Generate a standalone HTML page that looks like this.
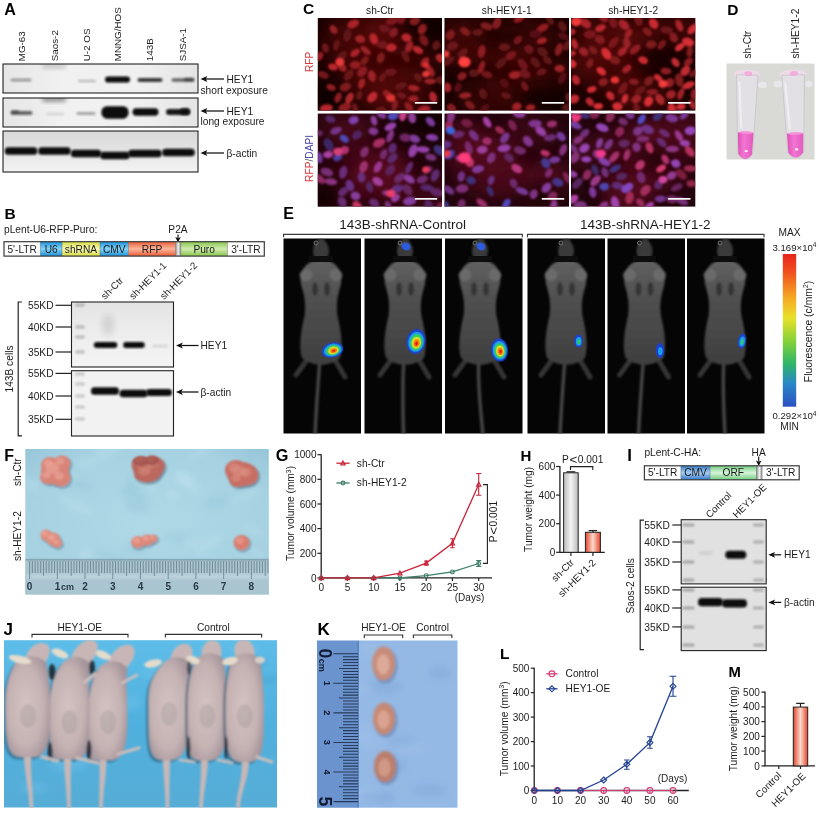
<!DOCTYPE html>
<html><head><meta charset="utf-8"><title>Figure</title>
<style>html,body{margin:0;padding:0;background:#fff}svg{display:block}text{font-family:"Liberation Sans", sans-serif}</style>
</head><body>
<svg width="820" height="814" viewBox="0 0 820 814">
<defs>
<filter id="b05" x="-20%" y="-50%" width="140%" height="200%"><feGaussianBlur stdDeviation="0.5"/></filter>
<filter id="b1" x="-20%" y="-50%" width="140%" height="200%"><feGaussianBlur stdDeviation="1"/></filter>
<filter id="b15" x="-30%" y="-60%" width="160%" height="220%"><feGaussianBlur stdDeviation="1.5"/></filter>
<filter id="b2" x="-30%" y="-60%" width="160%" height="220%"><feGaussianBlur stdDeviation="2"/></filter>
<filter id="b3" x="-40%" y="-60%" width="180%" height="220%"><feGaussianBlur stdDeviation="3"/></filter>
<filter id="b5" x="-50%" y="-50%" width="200%" height="200%"><feGaussianBlur stdDeviation="5"/></filter>
<filter id="b8" x="-50%" y="-50%" width="200%" height="200%"><feGaussianBlur stdDeviation="8"/></filter>
<linearGradient id="gA1" x1="0" y1="0" x2="1" y2="0"><stop offset="0" stop-color="#e6e6e6"/><stop offset="0.3" stop-color="#f1f1f1"/><stop offset="0.7" stop-color="#f0f0f0"/><stop offset="1" stop-color="#e4e4e4"/></linearGradient>
<linearGradient id="gA3" x1="0" y1="0" x2="0" y2="1"><stop offset="0" stop-color="#d8d8d8"/><stop offset="0.55" stop-color="#e6e6e6"/><stop offset="1" stop-color="#f4f4f4"/></linearGradient>
<linearGradient id="gBlue" x1="0" y1="0" x2="0" y2="1"><stop offset="0" stop-color="#1b90d8"/><stop offset="0.5" stop-color="#84d2f7"/><stop offset="1" stop-color="#1b90d8"/></linearGradient>
<linearGradient id="gYel" x1="0" y1="0" x2="0" y2="1"><stop offset="0" stop-color="#d6da44"/><stop offset="0.5" stop-color="#f7f7b4"/><stop offset="1" stop-color="#d6da44"/></linearGradient>
<linearGradient id="gRed" x1="0" y1="0" x2="0" y2="1"><stop offset="0" stop-color="#ea5c38"/><stop offset="0.5" stop-color="#fbb69a"/><stop offset="1" stop-color="#ea5c38"/></linearGradient>
<linearGradient id="gGrn" x1="0" y1="0" x2="0" y2="1"><stop offset="0" stop-color="#88c54c"/><stop offset="0.5" stop-color="#d0ebae"/><stop offset="1" stop-color="#88c54c"/></linearGradient>
<linearGradient id="gGrn2" x1="0" y1="0" x2="0" y2="1"><stop offset="0" stop-color="#72cc80"/><stop offset="0.5" stop-color="#d6f4da"/><stop offset="1" stop-color="#72cc80"/></linearGradient>
<linearGradient id="gBlue2" x1="0" y1="0" x2="0" y2="1"><stop offset="0" stop-color="#357ac8"/><stop offset="0.5" stop-color="#a4cdf2"/><stop offset="1" stop-color="#357ac8"/></linearGradient>
<linearGradient id="gGray2" x1="0" y1="0" x2="1" y2="0"><stop offset="0" stop-color="#8a8a8a"/><stop offset="0.5" stop-color="#f2f2f2"/><stop offset="1" stop-color="#8a8a8a"/></linearGradient>
<linearGradient id="gGray" x1="0" y1="0" x2="1" y2="0"><stop offset="0" stop-color="#9a9a9a"/><stop offset="0.5" stop-color="#d8d8d8"/><stop offset="1" stop-color="#9a9a9a"/></linearGradient>
<linearGradient id="gB1" x1="0" y1="0" x2="0" y2="1"><stop offset="0" stop-color="#e4e4e4"/><stop offset="0.6" stop-color="#efefef"/><stop offset="1" stop-color="#f4f4f4"/></linearGradient>
<filter id="bc" x="-30%" y="-30%" width="160%" height="160%"><feGaussianBlur stdDeviation="1.05"/></filter>
<linearGradient id="gTube" x1="0" y1="0" x2="1" y2="0"><stop offset="0" stop-color="#cfc6d2"/><stop offset="0.25" stop-color="#e9e4ea"/><stop offset="0.75" stop-color="#e4dfe6"/><stop offset="1" stop-color="#cdc4d0"/></linearGradient>
<linearGradient id="gPink" x1="0" y1="0" x2="1" y2="0"><stop offset="0" stop-color="#dc52b6"/><stop offset="0.4" stop-color="#f274d2"/><stop offset="1" stop-color="#e25abc"/></linearGradient>
<clipPath id="c1"><rect x="317.8" y="18" width="124.2" height="92.6"/></clipPath>
<clipPath id="c2"><rect x="444.5" y="18" width="124.5" height="92.6"/></clipPath>
<clipPath id="c3"><rect x="571" y="18" width="124.3" height="92.6"/></clipPath>
<clipPath id="c4"><rect x="317.8" y="113.6" width="124.2" height="93"/></clipPath>
<clipPath id="c5"><rect x="444.5" y="113.6" width="124.5" height="93"/></clipPath>
<clipPath id="c6"><rect x="571" y="113.6" width="124.3" height="93"/></clipPath>
<clipPath id="c7"><rect x="726.5" y="63.5" width="88" height="96"/></clipPath>
<radialGradient id="gBody" cx="0.5" cy="0.45" r="0.6"><stop offset="0" stop-color="#575757"/><stop offset="0.7" stop-color="#444"/><stop offset="1" stop-color="#2a2a2a"/></radialGradient>
<linearGradient id="gCbar" x1="0" y1="0" x2="0" y2="1"><stop offset="0" stop-color="#e8241c"/><stop offset="0.12" stop-color="#f0501e"/><stop offset="0.28" stop-color="#f5a623"/><stop offset="0.42" stop-color="#e8e12a"/><stop offset="0.58" stop-color="#7fd03a"/><stop offset="0.72" stop-color="#2fb56a"/><stop offset="0.85" stop-color="#2a86c8"/><stop offset="1" stop-color="#2a50c0"/></linearGradient>
<linearGradient id="gBodyV" x1="0" y1="0" x2="0" y2="1"><stop offset="0" stop-color="#606060"/><stop offset="0.35" stop-color="#505050"/><stop offset="1" stop-color="#3f3f3f"/></linearGradient>
<clipPath id="c8"><rect x="283.5" y="238.5" width="77.5" height="195"/></clipPath>
<clipPath id="c9"><rect x="364.5" y="238.5" width="77.5" height="195"/></clipPath>
<clipPath id="c10"><rect x="445" y="238.5" width="77.5" height="195"/></clipPath>
<clipPath id="c11"><rect x="527.5" y="238.5" width="77.5" height="195"/></clipPath>
<clipPath id="c12"><rect x="607.5" y="238.5" width="77.5" height="195"/></clipPath>
<clipPath id="c13"><rect x="687" y="238.5" width="77.5" height="195"/></clipPath>
<radialGradient id="gFbg" cx="0.5" cy="0.5" r="0.75"><stop offset="0" stop-color="#b0d9e7"/><stop offset="0.7" stop-color="#a5d1e1"/><stop offset="1" stop-color="#94c3d7"/></radialGradient>
<linearGradient id="gBarG" x1="0" y1="0" x2="1" y2="0"><stop offset="0" stop-color="#b9b9b9"/><stop offset="0.5" stop-color="#f4f4f4"/><stop offset="1" stop-color="#b9b9b9"/></linearGradient>
<linearGradient id="gBarR" x1="0" y1="0" x2="1" y2="0"><stop offset="0" stop-color="#e2452b"/><stop offset="0.5" stop-color="#fdd9cc"/><stop offset="1" stop-color="#e2452b"/></linearGradient>
<clipPath id="c14"><rect x="25.3" y="449" width="243.5" height="145.4"/></clipPath>
<clipPath id="c15"><rect x="681.2" y="519.7" width="85" height="64.2"/></clipPath>
<clipPath id="c16"><rect x="681.2" y="587.2" width="85" height="63.4"/></clipPath>
<linearGradient id="gJbg" x1="0" y1="0" x2="0" y2="1"><stop offset="0" stop-color="#5ebde8"/><stop offset="0.5" stop-color="#50b0de"/><stop offset="1" stop-color="#56add6"/></linearGradient>
<radialGradient id="gMouse" cx="0.45" cy="0.5" r="0.6"><stop offset="0" stop-color="#d4c3c2"/><stop offset="0.65" stop-color="#c5b2b3"/><stop offset="1" stop-color="#a4949a"/></radialGradient>
<clipPath id="c17"><rect x="4" y="640.2" width="273" height="167.3"/></clipPath>
<clipPath id="c18"><rect x="317" y="640.5" width="140.5" height="167.2"/></clipPath>
<clipPath id="c19"><rect x="3" y="64" width="195" height="29"/></clipPath>
<clipPath id="c20"><rect x="3" y="98" width="195" height="29"/></clipPath>
<clipPath id="c21"><rect x="3" y="131" width="195" height="41"/></clipPath>
<clipPath id="c22"><rect x="71.5" y="302" width="102" height="65"/></clipPath>
<clipPath id="c23"><rect x="71.5" y="370.7" width="102" height="65.3"/></clipPath>
</defs>
<rect width="820" height="814" fill="#fff"/>
<text x="303" y="14.4" font-size="15.5" font-weight="bold" fill="#000">C</text><text x="379.90000000000003" y="13.6" font-size="10.2" text-anchor="middle" fill="#1c1c1c">sh-Ctr</text><text x="506.75" y="13.6" font-size="10.2" text-anchor="middle" fill="#1c1c1c">sh-HEY1-1</text><text x="633.15" y="13.6" font-size="10.2" text-anchor="middle" fill="#1c1c1c">sh-HEY1-2</text><text x="313" y="61.8" font-size="10.2" text-anchor="middle" fill="#dc3a40" transform="rotate(-90 313 61.8)">RFP</text><text x="313" y="158.4" font-size="10.2" text-anchor="middle" transform="rotate(-90 313 158.4)"><tspan fill="#dc3a40">RFP</tspan><tspan fill="#555">/</tspan><tspan fill="#4a48a8">DAPI</tspan></text><rect x="317.8" y="18" width="124.2" height="92.6" fill="#1a0202"/><g clip-path="url(#c1)"><ellipse cx="353.9" cy="67.6" rx="27.2" ry="22.0" fill="#6a0d0d" opacity="0.33" filter="url(#b8)"/><ellipse cx="392.4" cy="32.1" rx="22.2" ry="24.4" fill="#6a0d0d" opacity="0.33" filter="url(#b8)"/><ellipse cx="356.0" cy="44.6" rx="35.9" ry="20.7" fill="#6a0d0d" opacity="0.33" filter="url(#b8)"/><ellipse cx="413.3" cy="62.5" rx="30.9" ry="17.5" fill="#6a0d0d" opacity="0.33" filter="url(#b8)"/><ellipse cx="393.3" cy="91.6" rx="29.3" ry="23.4" fill="#6a0d0d" opacity="0.33" filter="url(#b8)"/><ellipse cx="396.9" cy="32.0" rx="32.6" ry="21.9" fill="#6a0d0d" opacity="0.33" filter="url(#b8)"/><ellipse cx="360.2" cy="29.6" rx="34.1" ry="20.7" fill="#6a0d0d" opacity="0.33" filter="url(#b8)"/><ellipse cx="401.6" cy="92.4" rx="32.0" ry="25.2" fill="#6a0d0d" opacity="0.33" filter="url(#b8)"/><ellipse cx="369.5" cy="86.6" rx="28.2" ry="25.4" fill="#6a0d0d" opacity="0.33" filter="url(#b8)"/><ellipse cx="427.8" cy="26" rx="30" ry="16" fill="#0c0101" opacity="0.8" filter="url(#b8)"/><ellipse cx="325.8" cy="98" rx="18" ry="22" fill="#0c0101" opacity="0.8" filter="url(#b8)"/><g filter="url(#bc)"><ellipse cx="344.7" cy="107.4" rx="6.6" ry="4.2" fill="#8d1e23" transform="rotate(-19 344.7 107.4)"/><ellipse cx="372.0" cy="76.0" rx="6.0" ry="3.8" fill="#9c2126" transform="rotate(76 372.0 76.0)"/><ellipse cx="355.2" cy="65.0" rx="5.4" ry="4.1" fill="#931f24" transform="rotate(-3 355.2 65.0)"/><ellipse cx="365.7" cy="50.5" rx="6.3" ry="3.0" fill="#992026" transform="rotate(43 365.7 50.5)"/><ellipse cx="390.5" cy="72.1" rx="5.8" ry="3.7" fill="#6c161a" transform="rotate(-6 390.5 72.1)"/><ellipse cx="430.1" cy="81.2" rx="5.9" ry="3.0" fill="#972025" transform="rotate(0 430.1 81.2)"/><ellipse cx="433.2" cy="97.3" rx="5.7" ry="3.7" fill="#b4262d" transform="rotate(73 433.2 97.3)"/><ellipse cx="440.9" cy="80.2" rx="5.1" ry="4.0" fill="#621417" transform="rotate(20 440.9 80.2)"/><ellipse cx="338.1" cy="97.7" rx="5.5" ry="3.3" fill="#8c1d22" transform="rotate(-68 338.1 97.7)"/><ellipse cx="430.2" cy="70.7" rx="6.7" ry="3.4" fill="#9d2127" transform="rotate(59 430.2 70.7)"/><ellipse cx="406.5" cy="37.6" rx="5.1" ry="4.1" fill="#b9272e" transform="rotate(16 406.5 37.6)"/><ellipse cx="353.2" cy="23.9" rx="6.2" ry="4.0" fill="#aa242a" transform="rotate(-25 353.2 23.9)"/><ellipse cx="423.9" cy="109.7" rx="6.7" ry="4.1" fill="#a42329" transform="rotate(-10 423.9 109.7)"/><ellipse cx="336.5" cy="45.2" rx="5.8" ry="3.1" fill="#641418" transform="rotate(-73 336.5 45.2)"/><ellipse cx="413.3" cy="98.8" rx="5.2" ry="3.2" fill="#9d2127" transform="rotate(-0 413.3 98.8)"/><ellipse cx="323.3" cy="74.9" rx="5.9" ry="3.5" fill="#75181c" transform="rotate(24 323.3 74.9)"/><ellipse cx="380.6" cy="110.5" rx="5.7" ry="4.0" fill="#6b1619" transform="rotate(-16 380.6 110.5)"/><ellipse cx="392.3" cy="20.9" rx="6.6" ry="3.9" fill="#7b191e" transform="rotate(-21 392.3 20.9)"/><ellipse cx="342.3" cy="55.8" rx="5.9" ry="3.8" fill="#601317" transform="rotate(-44 342.3 55.8)"/><ellipse cx="393.6" cy="32.5" rx="5.2" ry="4.0" fill="#841b20" transform="rotate(-57 393.6 32.5)"/><ellipse cx="364.7" cy="60.6" rx="5.2" ry="3.3" fill="#7e1a1f" transform="rotate(-53 364.7 60.6)"/><ellipse cx="382.4" cy="77.6" rx="5.1" ry="3.0" fill="#6a1519" transform="rotate(-62 382.4 77.6)"/><ellipse cx="394.8" cy="105.1" rx="5.8" ry="3.1" fill="#821b20" transform="rotate(-76 394.8 105.1)"/><ellipse cx="380.8" cy="57.9" rx="5.6" ry="3.9" fill="#7e1a1f" transform="rotate(-72 380.8 57.9)"/><ellipse cx="355.2" cy="108.5" rx="5.6" ry="3.0" fill="#6e161a" transform="rotate(74 355.2 108.5)"/><ellipse cx="319.2" cy="56.4" rx="5.0" ry="3.6" fill="#951f25" transform="rotate(-54 319.2 56.4)"/><ellipse cx="361.6" cy="83.5" rx="5.5" ry="3.2" fill="#a12228" transform="rotate(-72 361.6 83.5)"/><ellipse cx="391.4" cy="47.6" rx="5.4" ry="4.0" fill="#b9282e" transform="rotate(-6 391.4 47.6)"/><ellipse cx="355.1" cy="52.9" rx="5.4" ry="3.3" fill="#ab242a" transform="rotate(-37 355.1 52.9)"/><ellipse cx="409.1" cy="46.7" rx="6.1" ry="3.4" fill="#9c2126" transform="rotate(-65 409.1 46.7)"/><ellipse cx="347.4" cy="35.4" rx="6.7" ry="3.8" fill="#611317" transform="rotate(-79 347.4 35.4)"/><ellipse cx="359.3" cy="95.2" rx="5.0" ry="3.2" fill="#621417" transform="rotate(-74 359.3 95.2)"/><ellipse cx="372.3" cy="97.2" rx="6.1" ry="4.2" fill="#be2930" transform="rotate(-48 372.3 97.2)"/><ellipse cx="373.8" cy="38.8" rx="5.8" ry="4.0" fill="#ba282e" transform="rotate(67 373.8 38.8)"/><ellipse cx="332.8" cy="67.0" rx="4.9" ry="3.4" fill="#bb282f" transform="rotate(17 332.8 67.0)"/><ellipse cx="418.1" cy="77.4" rx="5.0" ry="3.4" fill="#661418" transform="rotate(56 418.1 77.4)"/><ellipse cx="417.9" cy="50.0" rx="5.6" ry="3.4" fill="#b9272e" transform="rotate(29 417.9 50.0)"/><ellipse cx="440.4" cy="58.2" rx="5.1" ry="4.0" fill="#ad252b" transform="rotate(37 440.4 58.2)"/><ellipse cx="345.4" cy="87.0" rx="5.9" ry="4.2" fill="#7f1a1f" transform="rotate(-22 345.4 87.0)"/><ellipse cx="382.3" cy="44.8" rx="5.3" ry="4.0" fill="#72171b" transform="rotate(-3 382.3 44.8)"/><ellipse cx="360.2" cy="39.1" rx="5.1" ry="3.9" fill="#9f2227" transform="rotate(17 360.2 39.1)"/><ellipse cx="424.8" cy="62.2" rx="5.6" ry="3.6" fill="#9f2227" transform="rotate(-55 424.8 62.2)"/><ellipse cx="342.3" cy="67.5" rx="4.8" ry="3.6" fill="#9b2126" transform="rotate(41 342.3 67.5)"/><ellipse cx="333.6" cy="29.5" rx="5.0" ry="3.3" fill="#972025" transform="rotate(55 333.6 29.5)"/><ellipse cx="326.3" cy="108.3" rx="6.6" ry="4.1" fill="#b5272d" transform="rotate(-8 326.3 108.3)"/><ellipse cx="400.7" cy="85.9" rx="6.3" ry="3.4" fill="#631417" transform="rotate(-21 400.7 85.9)"/><ellipse cx="422.3" cy="29.2" rx="5.6" ry="4.2" fill="#8f1e23" transform="rotate(-63 422.3 29.2)"/><ellipse cx="401.5" cy="95.4" rx="5.0" ry="3.1" fill="#6f171b" transform="rotate(24 401.5 95.4)"/><ellipse cx="331.1" cy="87.4" rx="4.9" ry="3.2" fill="#911e23" transform="rotate(23 331.1 87.4)"/><ellipse cx="325.4" cy="48.0" rx="4.8" ry="3.3" fill="#6e161a" transform="rotate(75 325.4 48.0)"/><ellipse cx="387.8" cy="94.7" rx="5.9" ry="3.5" fill="#931f24" transform="rotate(45 387.8 94.7)"/><ellipse cx="348.8" cy="75.0" rx="6.4" ry="3.7" fill="#6a1619" transform="rotate(-50 348.8 75.0)"/><ellipse cx="436.2" cy="45.4" rx="5.0" ry="4.1" fill="#611317" transform="rotate(-62 436.2 45.4)"/><ellipse cx="405.4" cy="56.3" rx="6.7" ry="3.3" fill="#641418" transform="rotate(63 405.4 56.3)"/><ellipse cx="408.9" cy="106.9" rx="5.7" ry="3.3" fill="#941f24" transform="rotate(53 408.9 106.9)"/><ellipse cx="423.9" cy="40.4" rx="6.1" ry="4.0" fill="#79191d" transform="rotate(59 423.9 40.4)"/><ellipse cx="349.5" cy="98.1" rx="6.0" ry="3.6" fill="#ad252b" transform="rotate(-62 349.5 98.1)"/><ellipse cx="362.1" cy="71.7" rx="6.0" ry="4.1" fill="#8c1d22" transform="rotate(-47 362.1 71.7)"/><ellipse cx="401.7" cy="18.6" rx="5.7" ry="3.9" fill="#79191d" transform="rotate(-68 401.7 18.6)"/><ellipse cx="413.7" cy="88.1" rx="5.8" ry="3.1" fill="#a22228" transform="rotate(8 413.7 88.1)"/><ellipse cx="384.4" cy="28.5" rx="5.6" ry="3.8" fill="#6d161a" transform="rotate(17 384.4 28.5)"/><ellipse cx="414.9" cy="20.8" rx="5.5" ry="4.3" fill="#811b1f" transform="rotate(-26 414.9 20.8)"/><ellipse cx="339.8" cy="62" rx="4.6" ry="3.9" fill="#e83a3a"/><ellipse cx="390.8" cy="98" rx="4.4" ry="3.7" fill="#e03434"/><ellipse cx="425.8" cy="74" rx="3.6" ry="3.1" fill="#e83a3a"/><ellipse cx="425.8" cy="65" rx="3.2" ry="2.7" fill="#e03030"/></g></g><rect x="414.8" y="102.0" width="22.4" height="1.7" fill="#fff"/><rect x="444.5" y="18" width="124.5" height="92.6" fill="#1a0202"/><g clip-path="url(#c2)"><ellipse cx="519.0" cy="82.2" rx="33.1" ry="25.4" fill="#6a0d0d" opacity="0.27" filter="url(#b8)"/><ellipse cx="530.6" cy="95.6" rx="22.4" ry="20.7" fill="#6a0d0d" opacity="0.27" filter="url(#b8)"/><ellipse cx="550.9" cy="75.3" rx="34.6" ry="17.1" fill="#6a0d0d" opacity="0.27" filter="url(#b8)"/><ellipse cx="503.7" cy="45.5" rx="29.6" ry="21.7" fill="#6a0d0d" opacity="0.27" filter="url(#b8)"/><ellipse cx="458.3" cy="43.3" rx="25.9" ry="25.2" fill="#6a0d0d" opacity="0.27" filter="url(#b8)"/><ellipse cx="533.2" cy="39.1" rx="33.2" ry="17.4" fill="#6a0d0d" opacity="0.27" filter="url(#b8)"/><ellipse cx="518.4" cy="36.6" rx="22.0" ry="24.7" fill="#6a0d0d" opacity="0.27" filter="url(#b8)"/><ellipse cx="477.8" cy="43.2" rx="35.8" ry="24.7" fill="#6a0d0d" opacity="0.27" filter="url(#b8)"/><ellipse cx="485.8" cy="98.5" rx="29.5" ry="22.8" fill="#6a0d0d" opacity="0.27" filter="url(#b8)"/><ellipse cx="544.5" cy="98" rx="30" ry="16" fill="#0c0101" opacity="0.8" filter="url(#b8)"/><ellipse cx="504.5" cy="36" rx="26" ry="10" fill="#0c0101" opacity="0.8" filter="url(#b8)"/><g filter="url(#bc)"><ellipse cx="470.0" cy="105.1" rx="5.7" ry="3.5" fill="#7e1a1e" transform="rotate(39 470.0 105.1)"/><ellipse cx="530.5" cy="107.5" rx="4.9" ry="3.3" fill="#9d2127" transform="rotate(-7 530.5 107.5)"/><ellipse cx="481.7" cy="51.4" rx="6.6" ry="3.7" fill="#8f1e23" transform="rotate(-78 481.7 51.4)"/><ellipse cx="465.2" cy="31.5" rx="5.7" ry="3.7" fill="#811b1f" transform="rotate(33 465.2 31.5)"/><ellipse cx="452.6" cy="45.9" rx="5.8" ry="4.2" fill="#6d161a" transform="rotate(-18 452.6 45.9)"/><ellipse cx="519.6" cy="18.3" rx="6.5" ry="3.3" fill="#941f24" transform="rotate(-33 519.6 18.3)"/><ellipse cx="528.9" cy="49.3" rx="4.9" ry="4.1" fill="#70171b" transform="rotate(31 528.9 49.3)"/><ellipse cx="483.1" cy="93.8" rx="5.4" ry="4.0" fill="#5b1215" transform="rotate(66 483.1 93.8)"/><ellipse cx="504.4" cy="47.2" rx="5.8" ry="3.7" fill="#681519" transform="rotate(-0 504.4 47.2)"/><ellipse cx="504.4" cy="83.3" rx="5.1" ry="3.8" fill="#571114" transform="rotate(50 504.4 83.3)"/><ellipse cx="451.6" cy="108.3" rx="5.3" ry="4.1" fill="#841b20" transform="rotate(47 451.6 108.3)"/><ellipse cx="447.3" cy="87.4" rx="4.9" ry="3.9" fill="#a62329" transform="rotate(77 447.3 87.4)"/><ellipse cx="549.7" cy="19.7" rx="6.2" ry="3.1" fill="#601317" transform="rotate(55 549.7 19.7)"/><ellipse cx="542.6" cy="51.9" rx="6.1" ry="4.2" fill="#5b1215" transform="rotate(34 542.6 51.9)"/><ellipse cx="450.3" cy="34.8" rx="5.4" ry="4.2" fill="#7f1a1f" transform="rotate(-56 450.3 34.8)"/><ellipse cx="563.4" cy="36.2" rx="5.6" ry="3.2" fill="#561114" transform="rotate(20 563.4 36.2)"/><ellipse cx="458.0" cy="87.3" rx="5.0" ry="3.5" fill="#571114" transform="rotate(-68 458.0 87.3)"/><ellipse cx="562.3" cy="26.4" rx="6.0" ry="4.0" fill="#5b1215" transform="rotate(61 562.3 26.4)"/><ellipse cx="486.9" cy="74.6" rx="5.7" ry="3.4" fill="#75181c" transform="rotate(16 486.9 74.6)"/><ellipse cx="558.8" cy="49.5" rx="6.7" ry="3.5" fill="#871c21" transform="rotate(-71 558.8 49.5)"/><ellipse cx="559.6" cy="68.5" rx="5.1" ry="3.8" fill="#9c2127" transform="rotate(1 559.6 68.5)"/><ellipse cx="510.9" cy="55.6" rx="5.9" ry="3.8" fill="#7a191d" transform="rotate(-38 510.9 55.6)"/><ellipse cx="474.0" cy="73.0" rx="5.3" ry="4.0" fill="#5b1215" transform="rotate(3 474.0 73.0)"/><ellipse cx="547.4" cy="60.2" rx="5.3" ry="3.5" fill="#5e1316" transform="rotate(38 547.4 60.2)"/><ellipse cx="497.0" cy="23.2" rx="6.2" ry="3.9" fill="#851c20" transform="rotate(-66 497.0 23.2)"/><ellipse cx="505.9" cy="95.6" rx="5.0" ry="3.2" fill="#611317" transform="rotate(15 505.9 95.6)"/><ellipse cx="542.6" cy="27.9" rx="6.6" ry="3.6" fill="#911e24" transform="rotate(-28 542.6 27.9)"/><ellipse cx="568.9" cy="96.9" rx="4.9" ry="3.9" fill="#5c1215" transform="rotate(-71 568.9 96.9)"/><ellipse cx="501.0" cy="63.2" rx="6.7" ry="3.9" fill="#5a1215" transform="rotate(-44 501.0 63.2)"/><ellipse cx="535.3" cy="62.4" rx="6.7" ry="3.9" fill="#5b1215" transform="rotate(51 535.3 62.4)"/><ellipse cx="462.7" cy="52.9" rx="6.0" ry="3.5" fill="#681519" transform="rotate(-42 462.7 52.9)"/><ellipse cx="567.6" cy="106.9" rx="6.0" ry="3.5" fill="#5b1215" transform="rotate(-18 567.6 106.9)"/><ellipse cx="522.6" cy="64.2" rx="6.5" ry="3.8" fill="#70171b" transform="rotate(49 522.6 64.2)"/><ellipse cx="486.6" cy="26.3" rx="6.5" ry="3.7" fill="#7c1a1e" transform="rotate(15 486.6 26.3)"/><ellipse cx="562.2" cy="78.2" rx="6.3" ry="3.5" fill="#561114" transform="rotate(-64 562.2 78.2)"/><ellipse cx="524.7" cy="86.3" rx="5.2" ry="3.1" fill="#74181c" transform="rotate(62 524.7 86.3)"/><ellipse cx="465.2" cy="95.5" rx="6.3" ry="3.0" fill="#9a2126" transform="rotate(-5 465.2 95.5)"/><ellipse cx="535.4" cy="33.9" rx="6.0" ry="3.6" fill="#591115" transform="rotate(-6 535.4 33.9)"/><ellipse cx="541.7" cy="71.8" rx="5.1" ry="3.2" fill="#6c161a" transform="rotate(-20 541.7 71.8)"/><ellipse cx="448.9" cy="61.1" rx="6.6" ry="3.2" fill="#641418" transform="rotate(-39 448.9 61.1)"/><ellipse cx="518.0" cy="40.0" rx="5.1" ry="3.4" fill="#74181c" transform="rotate(-42 518.0 40.0)"/><ellipse cx="516.8" cy="106.7" rx="4.9" ry="4.2" fill="#9f2227" transform="rotate(-21 516.8 106.7)"/><ellipse cx="514.9" cy="75.0" rx="6.2" ry="3.9" fill="#a02228" transform="rotate(-5 514.9 75.0)"/><ellipse cx="462.0" cy="76.3" rx="5.0" ry="3.9" fill="#851c20" transform="rotate(-33 462.0 76.3)"/><ellipse cx="484.2" cy="109.1" rx="6.3" ry="3.2" fill="#561114" transform="rotate(-48 484.2 109.1)"/><ellipse cx="541.8" cy="40.7" rx="5.3" ry="3.1" fill="#a32228" transform="rotate(-16 541.8 40.7)"/><ellipse cx="477.8" cy="32.3" rx="5.5" ry="3.4" fill="#651418" transform="rotate(-5 477.8 32.3)"/><ellipse cx="567.6" cy="45.1" rx="6.3" ry="3.9" fill="#621317" transform="rotate(-54 567.6 45.1)"/><ellipse cx="524.8" cy="73.9" rx="6.1" ry="4.2" fill="#70171b" transform="rotate(23 524.8 73.9)"/><ellipse cx="481.5" cy="67.1" rx="6.8" ry="3.0" fill="#8f1e23" transform="rotate(-70 481.5 67.1)"/><ellipse cx="464.5" cy="62" rx="6.2" ry="5.3" fill="#ff4040"/><ellipse cx="445.5" cy="54" rx="4" ry="3.4" fill="#e83a3a"/></g></g><rect x="541.8" y="102.0" width="22.4" height="1.7" fill="#fff"/><rect x="571" y="18" width="124.3" height="92.6" fill="#1a0202"/><g clip-path="url(#c3)"><ellipse cx="615.6" cy="38.4" rx="31.1" ry="16.7" fill="#6a0d0d" opacity="0.38" filter="url(#b8)"/><ellipse cx="636.7" cy="54.4" rx="22.8" ry="21.1" fill="#6a0d0d" opacity="0.38" filter="url(#b8)"/><ellipse cx="587.2" cy="59.4" rx="23.0" ry="16.9" fill="#6a0d0d" opacity="0.38" filter="url(#b8)"/><ellipse cx="625.6" cy="88.5" rx="23.7" ry="18.2" fill="#6a0d0d" opacity="0.38" filter="url(#b8)"/><ellipse cx="645.8" cy="97.5" rx="30.1" ry="20.0" fill="#6a0d0d" opacity="0.38" filter="url(#b8)"/><ellipse cx="680.5" cy="30.7" rx="34.0" ry="18.9" fill="#6a0d0d" opacity="0.38" filter="url(#b8)"/><ellipse cx="597.8" cy="36.0" rx="26.3" ry="24.2" fill="#6a0d0d" opacity="0.38" filter="url(#b8)"/><ellipse cx="601.4" cy="70.3" rx="30.9" ry="19.7" fill="#6a0d0d" opacity="0.38" filter="url(#b8)"/><ellipse cx="637.9" cy="31.9" rx="22.8" ry="18.1" fill="#6a0d0d" opacity="0.38" filter="url(#b8)"/><ellipse cx="656" cy="58" rx="16" ry="12" fill="#0c0101" opacity="0.8" filter="url(#b8)"/><g filter="url(#bc)"><ellipse cx="669.7" cy="82.7" rx="4.9" ry="4.2" fill="#951f25" transform="rotate(-60 669.7 82.7)"/><ellipse cx="601.3" cy="71.2" rx="5.5" ry="3.4" fill="#d82f36" transform="rotate(38 601.3 71.2)"/><ellipse cx="636.3" cy="99.0" rx="5.3" ry="3.9" fill="#9f2227" transform="rotate(-32 636.3 99.0)"/><ellipse cx="661.7" cy="44.7" rx="5.6" ry="3.2" fill="#79191d" transform="rotate(-54 661.7 44.7)"/><ellipse cx="692.8" cy="28.9" rx="6.6" ry="3.6" fill="#ce2c34" transform="rotate(-45 692.8 28.9)"/><ellipse cx="623.0" cy="88.1" rx="6.8" ry="3.6" fill="#78191d" transform="rotate(-58 623.0 88.1)"/><ellipse cx="589.9" cy="63.3" rx="5.0" ry="3.4" fill="#7c1a1e" transform="rotate(-65 589.9 63.3)"/><ellipse cx="575.9" cy="79.9" rx="5.3" ry="3.7" fill="#b8272e" transform="rotate(62 575.9 79.9)"/><ellipse cx="666.0" cy="71.1" rx="5.6" ry="3.5" fill="#8a1d22" transform="rotate(4 666.0 71.1)"/><ellipse cx="679.8" cy="47.1" rx="5.5" ry="3.1" fill="#d72e36" transform="rotate(-36 679.8 47.1)"/><ellipse cx="643.1" cy="60.2" rx="5.1" ry="3.7" fill="#c82b32" transform="rotate(21 643.1 60.2)"/><ellipse cx="688.4" cy="61.9" rx="5.2" ry="3.4" fill="#8d1d22" transform="rotate(-40 688.4 61.9)"/><ellipse cx="653.6" cy="23.6" rx="5.7" ry="4.2" fill="#c92b33" transform="rotate(56 653.6 23.6)"/><ellipse cx="658.2" cy="77.9" rx="4.8" ry="3.0" fill="#cd2c33" transform="rotate(34 658.2 77.9)"/><ellipse cx="694.4" cy="94.1" rx="5.7" ry="3.8" fill="#8c1d22" transform="rotate(-80 694.4 94.1)"/><ellipse cx="606.4" cy="53.7" rx="6.7" ry="4.1" fill="#d82f36" transform="rotate(57 606.4 53.7)"/><ellipse cx="628.4" cy="33.6" rx="5.3" ry="3.1" fill="#9b2126" transform="rotate(-55 628.4 33.6)"/><ellipse cx="585.6" cy="23.5" rx="6.2" ry="4.2" fill="#ab242a" transform="rotate(35 585.6 23.5)"/><ellipse cx="666.5" cy="30.0" rx="6.3" ry="3.6" fill="#6c161a" transform="rotate(8 666.5 30.0)"/><ellipse cx="679.3" cy="25.5" rx="6.4" ry="3.3" fill="#ab242a" transform="rotate(67 679.3 25.5)"/><ellipse cx="626.8" cy="68.9" rx="5.4" ry="3.2" fill="#a9242a" transform="rotate(-40 626.8 68.9)"/><ellipse cx="680.8" cy="93.9" rx="6.2" ry="3.1" fill="#9b2126" transform="rotate(-69 680.8 93.9)"/><ellipse cx="622.6" cy="51.2" rx="6.0" ry="3.5" fill="#a52329" transform="rotate(-44 622.6 51.2)"/><ellipse cx="680.9" cy="106.7" rx="4.8" ry="3.4" fill="#d62e36" transform="rotate(-6 680.9 106.7)"/><ellipse cx="589.8" cy="34.3" rx="6.1" ry="4.1" fill="#7c191e" transform="rotate(-4 589.8 34.3)"/><ellipse cx="599.8" cy="39.6" rx="5.3" ry="4.2" fill="#831b20" transform="rotate(33 599.8 39.6)"/><ellipse cx="603.7" cy="18.4" rx="4.8" ry="3.6" fill="#8f1e23" transform="rotate(28 603.7 18.4)"/><ellipse cx="613.3" cy="22.9" rx="5.3" ry="3.9" fill="#7b191e" transform="rotate(68 613.3 22.9)"/><ellipse cx="571.0" cy="32.0" rx="4.9" ry="3.4" fill="#af252c" transform="rotate(-13 571.0 32.0)"/><ellipse cx="583.6" cy="51.7" rx="5.2" ry="4.0" fill="#992026" transform="rotate(38 583.6 51.7)"/><ellipse cx="574.2" cy="99.0" rx="5.2" ry="4.3" fill="#c22a31" transform="rotate(-30 574.2 99.0)"/><ellipse cx="647.3" cy="31.8" rx="5.3" ry="3.3" fill="#821b1f" transform="rotate(42 647.3 31.8)"/><ellipse cx="613.6" cy="42.5" rx="6.7" ry="3.6" fill="#7b191e" transform="rotate(-50 613.6 42.5)"/><ellipse cx="638.5" cy="20.5" rx="5.6" ry="3.9" fill="#74181c" transform="rotate(72 638.5 20.5)"/><ellipse cx="636.6" cy="108.6" rx="5.6" ry="3.3" fill="#74181c" transform="rotate(76 636.6 108.6)"/><ellipse cx="591.8" cy="89.5" rx="4.9" ry="3.1" fill="#cd2c33" transform="rotate(-17 591.8 89.5)"/><ellipse cx="671.9" cy="109.2" rx="6.6" ry="4.0" fill="#d22d35" transform="rotate(80 671.9 109.2)"/><ellipse cx="574.5" cy="43.9" rx="5.5" ry="3.2" fill="#b8272e" transform="rotate(70 574.5 43.9)"/><ellipse cx="603.2" cy="82.1" rx="4.9" ry="3.9" fill="#8a1d22" transform="rotate(-19 603.2 82.1)"/><ellipse cx="689.7" cy="51.8" rx="5.5" ry="3.2" fill="#801b1f" transform="rotate(-80 689.7 51.8)"/><ellipse cx="648.6" cy="101.4" rx="5.5" ry="4.2" fill="#d62e36" transform="rotate(-60 648.6 101.4)"/><ellipse cx="675.5" cy="62.4" rx="5.2" ry="3.5" fill="#c22a31" transform="rotate(51 675.5 62.4)"/><ellipse cx="652.2" cy="92.0" rx="5.7" ry="3.1" fill="#8a1d22" transform="rotate(-4 652.2 92.0)"/><ellipse cx="688.7" cy="85.1" rx="6.6" ry="3.3" fill="#cd2c33" transform="rotate(-22 688.7 85.1)"/><ellipse cx="589.8" cy="101.8" rx="4.9" ry="3.5" fill="#bb282f" transform="rotate(50 589.8 101.8)"/><ellipse cx="624.9" cy="98.7" rx="4.9" ry="3.0" fill="#d02d34" transform="rotate(-70 624.9 98.7)"/><ellipse cx="673.7" cy="37.5" rx="5.3" ry="4.0" fill="#861c21" transform="rotate(64 673.7 37.5)"/><ellipse cx="615.0" cy="60.4" rx="5.3" ry="4.2" fill="#7e1a1f" transform="rotate(19 615.0 60.4)"/><ellipse cx="640.0" cy="90.6" rx="6.2" ry="3.4" fill="#6b1619" transform="rotate(-36 640.0 90.6)"/><ellipse cx="688.1" cy="42.0" rx="6.3" ry="4.2" fill="#d32e35" transform="rotate(21 688.1 42.0)"/><ellipse cx="598.3" cy="106.2" rx="4.8" ry="3.3" fill="#d52e36" transform="rotate(-4 598.3 106.2)"/><ellipse cx="635.1" cy="49.4" rx="6.7" ry="3.5" fill="#901e23" transform="rotate(-40 635.1 49.4)"/><ellipse cx="685.3" cy="70.8" rx="5.8" ry="4.2" fill="#c02930" transform="rotate(-51 685.3 70.8)"/><ellipse cx="623.9" cy="24.7" rx="6.3" ry="4.1" fill="#a62329" transform="rotate(44 623.9 24.7)"/><ellipse cx="600.6" cy="28.1" rx="5.5" ry="3.4" fill="#bd282f" transform="rotate(-22 600.6 28.1)"/><ellipse cx="593.1" cy="50.1" rx="5.0" ry="3.3" fill="#7d1a1e" transform="rotate(40 593.1 50.1)"/><ellipse cx="634.0" cy="81.7" rx="4.9" ry="3.0" fill="#851c20" transform="rotate(8 634.0 81.7)"/><ellipse cx="679.2" cy="80.1" rx="6.8" ry="4.1" fill="#7f1a1f" transform="rotate(78 679.2 80.1)"/><ellipse cx="571.1" cy="53.3" rx="5.0" ry="3.1" fill="#b3262d" transform="rotate(-0 571.1 53.3)"/><ellipse cx="576.2" cy="20.1" rx="5.7" ry="3.3" fill="#a72329" transform="rotate(-13 576.2 20.1)"/><ellipse cx="660.0" cy="99.4" rx="6.1" ry="4.0" fill="#ad252b" transform="rotate(56 660.0 99.4)"/><ellipse cx="671.0" cy="94.5" rx="5.0" ry="4.1" fill="#a12228" transform="rotate(-33 671.0 94.5)"/><ellipse cx="648.8" cy="81.0" rx="5.5" ry="4.0" fill="#7d1a1e" transform="rotate(-48 648.8 81.0)"/><ellipse cx="692.6" cy="104.7" rx="5.3" ry="3.2" fill="#a22228" transform="rotate(61 692.6 104.7)"/><ellipse cx="626.9" cy="42.9" rx="5.5" ry="3.5" fill="#992026" transform="rotate(79 626.9 42.9)"/><ellipse cx="571.4" cy="63.5" rx="5.3" ry="4.1" fill="#da2f37" transform="rotate(25 571.4 63.5)"/><ellipse cx="610.3" cy="95.8" rx="5.0" ry="3.6" fill="#c52a31" transform="rotate(51 610.3 95.8)"/><ellipse cx="695.1" cy="72.6" rx="6.6" ry="3.1" fill="#72171b" transform="rotate(-33 695.1 72.6)"/><ellipse cx="617.4" cy="106.5" rx="5.2" ry="4.3" fill="#d22d35" transform="rotate(13 617.4 106.5)"/><ellipse cx="651.1" cy="44.5" rx="5.5" ry="4.1" fill="#7e1a1f" transform="rotate(-8 651.1 44.5)"/><ellipse cx="663" cy="84" rx="4.6" ry="3.9" fill="#f23a3a"/><ellipse cx="576" cy="22" rx="5" ry="4.2" fill="#ee3a3a"/><ellipse cx="615" cy="80" rx="4.2" ry="3.6" fill="#ea3535"/></g></g><rect x="668.1" y="102.0" width="22.4" height="1.7" fill="#fff"/><rect x="317.8" y="113.6" width="124.2" height="93" fill="#22050d"/><g clip-path="url(#c4)"><ellipse cx="375.2" cy="164.5" rx="34.9" ry="20.7" fill="#5e0e24" opacity="0.38" filter="url(#b8)"/><ellipse cx="380.7" cy="166.6" rx="24.6" ry="21.1" fill="#5e0e24" opacity="0.38" filter="url(#b8)"/><ellipse cx="392.8" cy="181.9" rx="23.3" ry="19.0" fill="#5e0e24" opacity="0.38" filter="url(#b8)"/><ellipse cx="339.2" cy="183.1" rx="31.7" ry="16.4" fill="#5e0e24" opacity="0.38" filter="url(#b8)"/><ellipse cx="427.8" cy="194.7" rx="31.2" ry="22.2" fill="#5e0e24" opacity="0.38" filter="url(#b8)"/><ellipse cx="345.9" cy="124.0" rx="29.4" ry="16.6" fill="#5e0e24" opacity="0.38" filter="url(#b8)"/><ellipse cx="349.1" cy="140.9" rx="22.4" ry="20.6" fill="#5e0e24" opacity="0.38" filter="url(#b8)"/><ellipse cx="374.0" cy="185.6" rx="29.3" ry="22.4" fill="#5e0e24" opacity="0.38" filter="url(#b8)"/><ellipse cx="379.9" cy="172.2" rx="28.4" ry="18.8" fill="#5e0e24" opacity="0.38" filter="url(#b8)"/><ellipse cx="427.8" cy="121.6" rx="30" ry="16" fill="#0c0101" opacity="0.8" filter="url(#b8)"/><ellipse cx="323.8" cy="195.6" rx="16" ry="18" fill="#0c0101" opacity="0.8" filter="url(#b8)"/><g filter="url(#bc)"><ellipse cx="441.7" cy="206.2" rx="5.1" ry="3.6" fill="#782148" transform="rotate(18 441.7 206.2)"/><ellipse cx="422.2" cy="179.4" rx="5.9" ry="3.8" fill="#6f2c70" transform="rotate(-22 422.2 179.4)"/><ellipse cx="357.0" cy="135.0" rx="5.4" ry="3.9" fill="#522460" transform="rotate(-33 357.0 135.0)"/><ellipse cx="353.7" cy="120.1" rx="5.1" ry="4.0" fill="#7f41b0" transform="rotate(-18 353.7 120.1)"/><ellipse cx="413.0" cy="150.8" rx="6.8" ry="4.2" fill="#9340a6" transform="rotate(-68 413.0 150.8)"/><ellipse cx="422.9" cy="149.5" rx="6.7" ry="3.3" fill="#9541a9" transform="rotate(4 422.9 149.5)"/><ellipse cx="436.8" cy="192.4" rx="6.8" ry="4.1" fill="#612663" transform="rotate(17 436.8 192.4)"/><ellipse cx="317.9" cy="133.1" rx="5.2" ry="3.1" fill="#672661" transform="rotate(4 317.9 133.1)"/><ellipse cx="430.9" cy="157.3" rx="5.7" ry="3.3" fill="#77307c" transform="rotate(13 430.9 157.3)"/><ellipse cx="439.6" cy="150.6" rx="6.8" ry="4.2" fill="#41307a" transform="rotate(37 439.6 150.6)"/><ellipse cx="326.9" cy="172.1" rx="6.6" ry="4.0" fill="#782e74" transform="rotate(20 326.9 172.1)"/><ellipse cx="414.5" cy="138.7" rx="5.9" ry="3.8" fill="#803c9e" transform="rotate(21 414.5 138.7)"/><ellipse cx="328.6" cy="144.5" rx="6.8" ry="4.2" fill="#3c2867" transform="rotate(61 328.6 144.5)"/><ellipse cx="330.3" cy="119.2" rx="5.3" ry="3.6" fill="#572767" transform="rotate(20 330.3 119.2)"/><ellipse cx="373.4" cy="131.3" rx="5.0" ry="3.9" fill="#82378f" transform="rotate(8 373.4 131.3)"/><ellipse cx="344.2" cy="138.7" rx="5.2" ry="3.4" fill="#4f46b4" transform="rotate(39 344.2 138.7)"/><ellipse cx="355.6" cy="195.9" rx="5.0" ry="4.1" fill="#883c9c" transform="rotate(20 355.6 195.9)"/><ellipse cx="344.0" cy="150.3" rx="5.3" ry="4.1" fill="#ad336e" transform="rotate(-21 344.0 150.3)"/><ellipse cx="349.9" cy="185.5" rx="5.9" ry="4.0" fill="#693184" transform="rotate(67 349.9 185.5)"/><ellipse cx="390.2" cy="136.2" rx="6.6" ry="3.1" fill="#853485" transform="rotate(-67 390.2 136.2)"/><ellipse cx="392.5" cy="148.2" rx="5.4" ry="4.0" fill="#5d2a71" transform="rotate(-68 392.5 148.2)"/><ellipse cx="374.1" cy="202.8" rx="5.4" ry="3.9" fill="#692c73" transform="rotate(31 374.1 202.8)"/><ellipse cx="377.9" cy="167.0" rx="6.3" ry="3.5" fill="#98388c" transform="rotate(-61 377.9 167.0)"/><ellipse cx="409.6" cy="201.1" rx="6.7" ry="4.2" fill="#863da1" transform="rotate(-10 409.6 201.1)"/><ellipse cx="342.2" cy="202.0" rx="5.6" ry="4.2" fill="#672b70" transform="rotate(63 342.2 202.0)"/><ellipse cx="427.4" cy="169.7" rx="5.5" ry="3.5" fill="#6f2865" transform="rotate(-18 427.4 169.7)"/><ellipse cx="405.3" cy="137.5" rx="5.9" ry="4.1" fill="#702763" transform="rotate(10 405.3 137.5)"/><ellipse cx="387.3" cy="192.9" rx="5.4" ry="3.0" fill="#8e337e" transform="rotate(3 387.3 192.9)"/><ellipse cx="363.6" cy="166.8" rx="6.1" ry="4.0" fill="#9f306e" transform="rotate(-70 363.6 166.8)"/><ellipse cx="428.5" cy="204.8" rx="5.0" ry="4.0" fill="#582665" transform="rotate(64 428.5 204.8)"/><ellipse cx="399.4" cy="177.9" rx="6.3" ry="3.8" fill="#6a2a6b" transform="rotate(-41 399.4 177.9)"/><ellipse cx="390.4" cy="126.7" rx="6.3" ry="3.5" fill="#9842ab" transform="rotate(-26 390.4 126.7)"/><ellipse cx="377.7" cy="181.5" rx="5.9" ry="3.9" fill="#a33f9e" transform="rotate(33 377.7 181.5)"/><ellipse cx="357.4" cy="206.5" rx="6.1" ry="4.1" fill="#c93563" transform="rotate(49 357.4 206.5)"/><ellipse cx="409.3" cy="179.0" rx="6.1" ry="3.7" fill="#8a3d9f" transform="rotate(34 409.3 179.0)"/><ellipse cx="361.5" cy="177.3" rx="5.1" ry="4.0" fill="#6a2f7e" transform="rotate(79 361.5 177.3)"/><ellipse cx="369.6" cy="187.1" rx="5.6" ry="3.4" fill="#562563" transform="rotate(75 369.6 187.1)"/><ellipse cx="390.2" cy="170.2" rx="6.1" ry="4.0" fill="#61245d" transform="rotate(-51 390.2 170.2)"/><ellipse cx="409.1" cy="167.6" rx="6.6" ry="3.0" fill="#60296c" transform="rotate(-63 409.1 167.6)"/><ellipse cx="392.5" cy="158.3" rx="6.2" ry="3.8" fill="#5e296d" transform="rotate(-44 392.5 158.3)"/><ellipse cx="432.1" cy="137.4" rx="6.3" ry="3.4" fill="#843ea4" transform="rotate(8 432.1 137.4)"/><ellipse cx="379.1" cy="142.9" rx="6.6" ry="4.2" fill="#a62f63" transform="rotate(-25 379.1 142.9)"/><ellipse cx="374.0" cy="120.5" rx="5.2" ry="3.1" fill="#8f3c9c" transform="rotate(72 374.0 120.5)"/><ellipse cx="319.1" cy="157.5" rx="5.8" ry="3.4" fill="#72399b" transform="rotate(78 319.1 157.5)"/><ellipse cx="430.4" cy="121.7" rx="5.7" ry="3.5" fill="#7a3b9d" transform="rotate(47 430.4 121.7)"/><ellipse cx="395.5" cy="198.2" rx="5.1" ry="3.4" fill="#983e9f" transform="rotate(-38 395.5 198.2)"/><ellipse cx="427.0" cy="187.7" rx="6.8" ry="3.3" fill="#58286d" transform="rotate(6 427.0 187.7)"/><ellipse cx="407.5" cy="189.7" rx="6.4" ry="4.1" fill="#66255d" transform="rotate(52 407.5 189.7)"/><ellipse cx="328.1" cy="154.6" rx="5.0" ry="3.6" fill="#a840a1" transform="rotate(-5 328.1 154.6)"/><ellipse cx="393.0" cy="116.2" rx="5.4" ry="4.0" fill="#5149bc" transform="rotate(-13 393.0 116.2)"/><ellipse cx="330.8" cy="181.6" rx="6.5" ry="3.3" fill="#88337f" transform="rotate(7 330.8 181.6)"/><ellipse cx="383.7" cy="154.2" rx="5.4" ry="3.4" fill="#752c6f" transform="rotate(-68 383.7 154.2)"/><ellipse cx="364.5" cy="152.0" rx="5.5" ry="3.9" fill="#832e72" transform="rotate(-63 364.5 152.0)"/><ellipse cx="343.2" cy="172.3" rx="6.5" ry="3.9" fill="#6b2f7d" transform="rotate(-78 343.2 172.3)"/><ellipse cx="402.9" cy="115.3" rx="5.9" ry="3.6" fill="#c93d87" transform="rotate(-78 402.9 115.3)"/><ellipse cx="336.0" cy="130.8" rx="6.0" ry="3.4" fill="#77348a" transform="rotate(-20 336.0 130.8)"/><ellipse cx="343.1" cy="191.7" rx="5.6" ry="3.9" fill="#63296c" transform="rotate(-39 343.1 191.7)"/><ellipse cx="319.4" cy="178.8" rx="6.7" ry="3.7" fill="#8c2a60" transform="rotate(36 319.4 178.8)"/><ellipse cx="381.5" cy="115.0" rx="5.1" ry="3.1" fill="#843a97" transform="rotate(28 381.5 115.0)"/><ellipse cx="435.1" cy="175.5" rx="6.5" ry="3.8" fill="#5f2b72" transform="rotate(-66 435.1 175.5)"/><ellipse cx="388.3" cy="206.1" rx="5.6" ry="3.1" fill="#7b307a" transform="rotate(67 388.3 206.1)"/><ellipse cx="397.0" cy="188.9" rx="6.3" ry="4.1" fill="#622e7d" transform="rotate(-18 397.0 188.9)"/><ellipse cx="412.1" cy="117.8" rx="5.6" ry="3.9" fill="#913c99" transform="rotate(77 412.1 117.8)"/><ellipse cx="337.7" cy="157.5" rx="4.8" ry="3.4" fill="#4b3fa2" transform="rotate(-25 337.7 157.5)"/><ellipse cx="337.8" cy="151.6" rx="4.6" ry="3.9" fill="#d8407a"/><ellipse cx="390.8" cy="193.6" rx="4.6" ry="3.9" fill="#e8406a"/><ellipse cx="425.8" cy="169.6" rx="3.6" ry="3.1" fill="#e83a5a"/></g></g><rect x="414.8" y="198.0" width="22.4" height="1.7" fill="#fff"/><rect x="444.5" y="113.6" width="124.5" height="93" fill="#22050d"/><g clip-path="url(#c5)"><ellipse cx="482.7" cy="173.9" rx="31.6" ry="24.5" fill="#5e0e24" opacity="0.38" filter="url(#b8)"/><ellipse cx="475.4" cy="140.1" rx="24.1" ry="18.3" fill="#5e0e24" opacity="0.38" filter="url(#b8)"/><ellipse cx="530.1" cy="132.6" rx="29.4" ry="18.1" fill="#5e0e24" opacity="0.38" filter="url(#b8)"/><ellipse cx="486.3" cy="155.0" rx="33.7" ry="22.1" fill="#5e0e24" opacity="0.38" filter="url(#b8)"/><ellipse cx="458.4" cy="143.4" rx="24.1" ry="24.7" fill="#5e0e24" opacity="0.38" filter="url(#b8)"/><ellipse cx="537.6" cy="182.9" rx="33.6" ry="23.4" fill="#5e0e24" opacity="0.38" filter="url(#b8)"/><ellipse cx="551.5" cy="182.0" rx="25.6" ry="24.5" fill="#5e0e24" opacity="0.38" filter="url(#b8)"/><ellipse cx="505.4" cy="179.1" rx="29.9" ry="20.3" fill="#5e0e24" opacity="0.38" filter="url(#b8)"/><ellipse cx="493.2" cy="154.9" rx="26.4" ry="17.2" fill="#5e0e24" opacity="0.38" filter="url(#b8)"/><ellipse cx="544.5" cy="197.6" rx="26" ry="10" fill="#0c0101" opacity="0.8" filter="url(#b8)"/><g filter="url(#bc)"><ellipse cx="546.5" cy="187.8" rx="5.8" ry="4.1" fill="#873b9a" transform="rotate(-46 546.5 187.8)"/><ellipse cx="567.2" cy="177.9" rx="6.7" ry="3.0" fill="#7d2452" transform="rotate(58 567.2 177.9)"/><ellipse cx="513.5" cy="183.2" rx="4.9" ry="3.7" fill="#6e2b6d" transform="rotate(68 513.5 183.2)"/><ellipse cx="461.3" cy="176.5" rx="5.3" ry="3.7" fill="#723182" transform="rotate(-78 461.3 176.5)"/><ellipse cx="499.7" cy="130.0" rx="5.2" ry="3.1" fill="#9e2b55" transform="rotate(32 499.7 130.0)"/><ellipse cx="469.7" cy="162.2" rx="5.0" ry="4.2" fill="#c2366c" transform="rotate(69 469.7 162.2)"/><ellipse cx="519.9" cy="150.4" rx="6.2" ry="3.9" fill="#722a6b" transform="rotate(15 519.9 150.4)"/><ellipse cx="460.8" cy="159.2" rx="6.0" ry="3.1" fill="#8c3587" transform="rotate(23 460.8 159.2)"/><ellipse cx="473.8" cy="135.5" rx="6.6" ry="3.5" fill="#783385" transform="rotate(50 473.8 135.5)"/><ellipse cx="468.7" cy="147.7" rx="6.7" ry="3.6" fill="#7d2c6f" transform="rotate(72 468.7 147.7)"/><ellipse cx="563.2" cy="149.8" rx="6.2" ry="3.5" fill="#84317c" transform="rotate(-68 563.2 149.8)"/><ellipse cx="462.1" cy="188.6" rx="6.4" ry="4.3" fill="#7d2f77" transform="rotate(-8 462.1 188.6)"/><ellipse cx="548.8" cy="173.0" rx="5.0" ry="3.3" fill="#7e2c6d" transform="rotate(-57 548.8 173.0)"/><ellipse cx="552.6" cy="196.0" rx="5.2" ry="4.2" fill="#812658" transform="rotate(-33 552.6 196.0)"/><ellipse cx="491.2" cy="180.2" rx="5.0" ry="3.2" fill="#69307f" transform="rotate(-69 491.2 180.2)"/><ellipse cx="461.6" cy="203.9" rx="4.8" ry="3.9" fill="#742967" transform="rotate(-72 461.6 203.9)"/><ellipse cx="516.8" cy="168.6" rx="6.1" ry="3.9" fill="#b6377c" transform="rotate(32 516.8 168.6)"/><ellipse cx="487.0" cy="141.1" rx="4.9" ry="3.8" fill="#9e2f6a" transform="rotate(3 487.0 141.1)"/><ellipse cx="458.5" cy="134.6" rx="6.2" ry="3.6" fill="#6d2a6d" transform="rotate(-13 458.5 134.6)"/><ellipse cx="449.3" cy="154.5" rx="5.9" ry="4.2" fill="#4c42a8" transform="rotate(-35 449.3 154.5)"/><ellipse cx="487.2" cy="122.2" rx="6.1" ry="3.2" fill="#a641a3" transform="rotate(57 487.2 122.2)"/><ellipse cx="444.9" cy="206.4" rx="5.2" ry="3.4" fill="#46378e" transform="rotate(-63 444.9 206.4)"/><ellipse cx="478.0" cy="169.1" rx="6.2" ry="3.7" fill="#813a99" transform="rotate(-13 478.0 169.1)"/><ellipse cx="490.2" cy="191.2" rx="5.5" ry="3.0" fill="#3d2a6c" transform="rotate(62 490.2 191.2)"/><ellipse cx="445.2" cy="144.7" rx="6.4" ry="4.1" fill="#663185" transform="rotate(-8 445.2 144.7)"/><ellipse cx="506.3" cy="203.8" rx="5.8" ry="3.3" fill="#5149bb" transform="rotate(-56 506.3 203.8)"/><ellipse cx="508.8" cy="157.7" rx="5.5" ry="4.0" fill="#642661" transform="rotate(39 508.8 157.7)"/><ellipse cx="527.9" cy="141.2" rx="6.1" ry="4.2" fill="#81368c" transform="rotate(48 527.9 141.2)"/><ellipse cx="557.8" cy="182.3" rx="5.9" ry="4.1" fill="#443587" transform="rotate(19 557.8 182.3)"/><ellipse cx="550.2" cy="137.6" rx="6.4" ry="3.4" fill="#6a2c73" transform="rotate(-11 550.2 137.6)"/><ellipse cx="519.2" cy="114.0" rx="6.5" ry="3.8" fill="#8e3c9a" transform="rotate(9 519.2 114.0)"/><ellipse cx="540.8" cy="131.3" rx="6.3" ry="3.9" fill="#963fa3" transform="rotate(39 540.8 131.3)"/><ellipse cx="552.0" cy="124.0" rx="5.2" ry="3.3" fill="#9a2f6c" transform="rotate(-10 552.0 124.0)"/><ellipse cx="482.3" cy="149.7" rx="5.5" ry="4.0" fill="#9c3d9a" transform="rotate(-7 482.3 149.7)"/><ellipse cx="448.7" cy="125.5" rx="5.7" ry="3.7" fill="#9c2a54" transform="rotate(-71 448.7 125.5)"/><ellipse cx="553.6" cy="205.7" rx="5.9" ry="3.5" fill="#90388f" transform="rotate(-74 553.6 205.7)"/><ellipse cx="512.4" cy="125.3" rx="6.0" ry="3.5" fill="#7b2453" transform="rotate(60 512.4 125.3)"/><ellipse cx="504.1" cy="148.2" rx="6.7" ry="3.8" fill="#9641a8" transform="rotate(-8 504.1 148.2)"/><ellipse cx="471.1" cy="180.4" rx="4.9" ry="4.0" fill="#41307a" transform="rotate(22 471.1 180.4)"/><ellipse cx="545.6" cy="163.2" rx="5.6" ry="4.2" fill="#463890" transform="rotate(59 545.6 163.2)"/><ellipse cx="481.8" cy="203.1" rx="6.5" ry="3.3" fill="#9c2f69" transform="rotate(37 481.8 203.1)"/><ellipse cx="451.0" cy="116.4" rx="6.4" ry="3.9" fill="#863485" transform="rotate(-77 451.0 116.4)"/><ellipse cx="535.0" cy="123.6" rx="6.7" ry="3.9" fill="#80368d" transform="rotate(-1 535.0 123.6)"/><ellipse cx="533.7" cy="194.2" rx="5.0" ry="3.9" fill="#7f3384" transform="rotate(-69 533.7 194.2)"/><ellipse cx="545.2" cy="153.1" rx="4.9" ry="3.0" fill="#b93367" transform="rotate(20 545.2 153.1)"/><ellipse cx="522.0" cy="191.1" rx="6.8" ry="3.2" fill="#763896" transform="rotate(21 522.0 191.1)"/><ellipse cx="561.2" cy="136.6" rx="5.3" ry="3.7" fill="#773b9e" transform="rotate(46 561.2 136.6)"/><ellipse cx="504.8" cy="137.9" rx="6.2" ry="3.7" fill="#7b3791" transform="rotate(-53 504.8 137.9)"/><ellipse cx="491.3" cy="157.9" rx="5.7" ry="4.0" fill="#7d307b" transform="rotate(-63 491.3 157.9)"/><ellipse cx="448.8" cy="190.0" rx="6.4" ry="3.3" fill="#713284" transform="rotate(35 448.8 190.0)"/><ellipse cx="466.8" cy="123.2" rx="5.9" ry="4.0" fill="#741f42" transform="rotate(16 466.8 123.2)"/><ellipse cx="554.7" cy="159.8" rx="5.6" ry="3.3" fill="#783a9b" transform="rotate(-9 554.7 159.8)"/><ellipse cx="464.5" cy="157.6" rx="6.4" ry="5.4" fill="#ff3a7a"/><ellipse cx="446.5" cy="153.6" rx="4" ry="3.4" fill="#e83a4a"/><ellipse cx="450.5" cy="130.6" rx="4.5" ry="3.8" fill="#3a68e0"/></g></g><rect x="541.8" y="198.0" width="22.4" height="1.7" fill="#fff"/><rect x="571" y="113.6" width="124.3" height="93" fill="#22050d"/><g clip-path="url(#c6)"><ellipse cx="635.3" cy="182.9" rx="35.4" ry="18.9" fill="#5e0e24" opacity="0.40" filter="url(#b8)"/><ellipse cx="659.6" cy="175.3" rx="31.3" ry="17.1" fill="#5e0e24" opacity="0.40" filter="url(#b8)"/><ellipse cx="586.1" cy="151.5" rx="32.4" ry="18.5" fill="#5e0e24" opacity="0.40" filter="url(#b8)"/><ellipse cx="633.3" cy="146.5" rx="33.8" ry="25.5" fill="#5e0e24" opacity="0.40" filter="url(#b8)"/><ellipse cx="623.4" cy="197.2" rx="22.9" ry="24.1" fill="#5e0e24" opacity="0.40" filter="url(#b8)"/><ellipse cx="670.5" cy="134.1" rx="31.9" ry="21.6" fill="#5e0e24" opacity="0.40" filter="url(#b8)"/><ellipse cx="678.4" cy="138.5" rx="29.6" ry="24.8" fill="#5e0e24" opacity="0.40" filter="url(#b8)"/><ellipse cx="646.9" cy="145.9" rx="23.1" ry="25.4" fill="#5e0e24" opacity="0.40" filter="url(#b8)"/><ellipse cx="630.6" cy="197.0" rx="24.0" ry="24.1" fill="#5e0e24" opacity="0.40" filter="url(#b8)"/><ellipse cx="656" cy="157.6" rx="14" ry="10" fill="#0c0101" opacity="0.8" filter="url(#b8)"/><g filter="url(#bc)"><ellipse cx="672.1" cy="199.2" rx="6.2" ry="4.0" fill="#722862" transform="rotate(8 672.1 199.2)"/><ellipse cx="573.2" cy="148.2" rx="5.4" ry="3.1" fill="#77307d" transform="rotate(43 573.2 148.2)"/><ellipse cx="577.4" cy="183.5" rx="6.6" ry="3.7" fill="#592560" transform="rotate(-46 577.4 183.5)"/><ellipse cx="615.1" cy="202.8" rx="6.7" ry="4.1" fill="#a143aa" transform="rotate(76 615.1 202.8)"/><ellipse cx="617.6" cy="185.6" rx="5.9" ry="3.7" fill="#602c77" transform="rotate(7 617.6 185.6)"/><ellipse cx="678.9" cy="135.8" rx="6.2" ry="3.2" fill="#99398e" transform="rotate(58 678.9 135.8)"/><ellipse cx="640.2" cy="202.6" rx="5.0" ry="3.3" fill="#9b2c5c" transform="rotate(47 640.2 202.6)"/><ellipse cx="636.5" cy="147.1" rx="4.8" ry="4.2" fill="#823381" transform="rotate(78 636.5 147.1)"/><ellipse cx="604.2" cy="186.7" rx="5.0" ry="4.0" fill="#4d44ae" transform="rotate(-1 604.2 186.7)"/><ellipse cx="595.0" cy="169.8" rx="5.6" ry="3.3" fill="#3d2a6a" transform="rotate(68 595.0 169.8)"/><ellipse cx="640.1" cy="165.1" rx="5.5" ry="4.1" fill="#bb356c" transform="rotate(-49 640.1 165.1)"/><ellipse cx="587.1" cy="174.8" rx="5.6" ry="4.0" fill="#8e295d" transform="rotate(-61 587.1 174.8)"/><ellipse cx="684.9" cy="143.3" rx="5.3" ry="3.2" fill="#9c43af" transform="rotate(5 684.9 143.3)"/><ellipse cx="642.9" cy="138.9" rx="6.6" ry="3.1" fill="#7f2d70" transform="rotate(-3 642.9 138.9)"/><ellipse cx="614.3" cy="157.0" rx="6.7" ry="3.4" fill="#a5316c" transform="rotate(-48 614.3 157.0)"/><ellipse cx="604.9" cy="172.5" rx="5.3" ry="3.5" fill="#6f2e79" transform="rotate(70 604.9 172.5)"/><ellipse cx="661.6" cy="142.4" rx="5.9" ry="3.3" fill="#672b70" transform="rotate(44 661.6 142.4)"/><ellipse cx="580.3" cy="205.4" rx="6.6" ry="4.3" fill="#7d317e" transform="rotate(-6 580.3 205.4)"/><ellipse cx="684.1" cy="115.5" rx="5.1" ry="3.1" fill="#773896" transform="rotate(-38 684.1 115.5)"/><ellipse cx="641.1" cy="177.4" rx="5.9" ry="4.2" fill="#742c70" transform="rotate(71 641.1 177.4)"/><ellipse cx="690.3" cy="168.5" rx="6.5" ry="3.2" fill="#9c294d" transform="rotate(3 690.3 168.5)"/><ellipse cx="619.7" cy="131.8" rx="5.3" ry="4.2" fill="#8e2858" transform="rotate(-57 619.7 131.8)"/><ellipse cx="602.3" cy="127.6" rx="6.7" ry="3.8" fill="#9244b3" transform="rotate(21 602.3 127.6)"/><ellipse cx="584.7" cy="133.4" rx="5.6" ry="3.5" fill="#712f7a" transform="rotate(-42 584.7 133.4)"/><ellipse cx="675.7" cy="163.5" rx="4.9" ry="4.1" fill="#9344b2" transform="rotate(26 675.7 163.5)"/><ellipse cx="671.8" cy="118.2" rx="6.4" ry="3.9" fill="#7d3997" transform="rotate(13 671.8 118.2)"/><ellipse cx="691.2" cy="183.5" rx="4.9" ry="3.6" fill="#8e2547" transform="rotate(2 691.2 183.5)"/><ellipse cx="599.5" cy="143.2" rx="5.4" ry="3.2" fill="#853a96" transform="rotate(-67 599.5 143.2)"/><ellipse cx="615.2" cy="168.6" rx="6.4" ry="3.3" fill="#42317e" transform="rotate(-27 615.2 168.6)"/><ellipse cx="658.5" cy="184.7" rx="4.8" ry="4.2" fill="#602767" transform="rotate(-57 658.5 184.7)"/><ellipse cx="626.9" cy="155.0" rx="5.9" ry="3.0" fill="#a1306c" transform="rotate(-71 626.9 155.0)"/><ellipse cx="630.0" cy="114.7" rx="5.1" ry="4.0" fill="#7a368e" transform="rotate(41 630.0 114.7)"/><ellipse cx="603.7" cy="205.5" rx="5.3" ry="3.4" fill="#903689" transform="rotate(-35 603.7 205.5)"/><ellipse cx="664.5" cy="133.2" rx="6.1" ry="3.2" fill="#6c2c74" transform="rotate(34 664.5 133.2)"/><ellipse cx="604.2" cy="161.7" rx="6.8" ry="3.5" fill="#8340aa" transform="rotate(29 604.2 161.7)"/><ellipse cx="657.9" cy="116.2" rx="6.1" ry="3.9" fill="#3f2d74" transform="rotate(-37 657.9 116.2)"/><ellipse cx="629.6" cy="197.9" rx="6.2" ry="4.2" fill="#a52c55" transform="rotate(-77 629.6 197.9)"/><ellipse cx="676.7" cy="187.4" rx="6.3" ry="3.2" fill="#68255e" transform="rotate(-24 676.7 187.4)"/><ellipse cx="638.0" cy="131.1" rx="5.3" ry="4.3" fill="#7f3588" transform="rotate(-38 638.0 131.1)"/><ellipse cx="689.9" cy="151.5" rx="6.2" ry="3.7" fill="#b6315e" transform="rotate(49 689.9 151.5)"/><ellipse cx="647.7" cy="129.3" rx="6.6" ry="4.2" fill="#713387" transform="rotate(24 647.7 129.3)"/><ellipse cx="624.1" cy="143.5" rx="5.8" ry="4.0" fill="#632661" transform="rotate(-3 624.1 143.5)"/><ellipse cx="594.7" cy="114.3" rx="5.2" ry="4.2" fill="#82244d" transform="rotate(-31 594.7 114.3)"/><ellipse cx="586.2" cy="159.4" rx="5.2" ry="3.1" fill="#9544b4" transform="rotate(4 586.2 159.4)"/><ellipse cx="681.4" cy="174.4" rx="6.5" ry="3.8" fill="#7d1f3d" transform="rotate(44 681.4 174.4)"/><ellipse cx="610.3" cy="116.9" rx="5.6" ry="4.1" fill="#8c295b" transform="rotate(-60 610.3 116.9)"/><ellipse cx="641.7" cy="119.2" rx="5.6" ry="3.4" fill="#534cc3" transform="rotate(-56 641.7 119.2)"/><ellipse cx="682.0" cy="201.1" rx="6.7" ry="3.4" fill="#782f79" transform="rotate(26 682.0 201.1)"/><ellipse cx="595.6" cy="180.7" rx="6.7" ry="3.8" fill="#9a3789" transform="rotate(-47 595.6 180.7)"/><ellipse cx="690.3" cy="130.7" rx="5.6" ry="4.2" fill="#9447bb" transform="rotate(-6 690.3 130.7)"/><ellipse cx="574.8" cy="157.5" rx="6.2" ry="4.2" fill="#853077" transform="rotate(-57 574.8 157.5)"/><ellipse cx="575.5" cy="125.2" rx="6.6" ry="3.3" fill="#773ca0" transform="rotate(23 575.5 125.2)"/><ellipse cx="584.4" cy="148.2" rx="5.6" ry="4.2" fill="#9744b3" transform="rotate(-37 584.4 148.2)"/><ellipse cx="665.3" cy="159.4" rx="5.3" ry="3.3" fill="#b2336d" transform="rotate(59 665.3 159.4)"/><ellipse cx="608.6" cy="144.4" rx="6.1" ry="3.4" fill="#7b3486" transform="rotate(-54 608.6 144.4)"/><ellipse cx="661.1" cy="168.5" rx="5.5" ry="3.2" fill="#d63a6e" transform="rotate(-31 661.1 168.5)"/><ellipse cx="623.1" cy="121.5" rx="5.2" ry="3.6" fill="#712968" transform="rotate(27 623.1 121.5)"/><ellipse cx="672.3" cy="149.0" rx="6.7" ry="3.2" fill="#8c3481" transform="rotate(1 672.3 149.0)"/><ellipse cx="596.9" cy="154.1" rx="4.8" ry="4.1" fill="#803079" transform="rotate(53 596.9 154.1)"/><ellipse cx="649.2" cy="206.4" rx="5.6" ry="3.2" fill="#aa43a9" transform="rotate(-44 649.2 206.4)"/><ellipse cx="671.8" cy="175.5" rx="5.0" ry="4.0" fill="#933a92" transform="rotate(-36 671.8 175.5)"/><ellipse cx="645.4" cy="190.4" rx="6.2" ry="4.3" fill="#a22d5b" transform="rotate(-48 645.4 190.4)"/><ellipse cx="584.8" cy="115.8" rx="5.0" ry="3.1" fill="#402e75" transform="rotate(15 584.8 115.8)"/><ellipse cx="660.3" cy="198.9" rx="5.7" ry="3.4" fill="#72358e" transform="rotate(-4 660.3 198.9)"/><ellipse cx="571.9" cy="114.3" rx="6.7" ry="3.1" fill="#7c3280" transform="rotate(48 571.9 114.3)"/><ellipse cx="592.7" cy="192.2" rx="5.6" ry="3.6" fill="#7c3997" transform="rotate(76 592.7 192.2)"/><ellipse cx="572.2" cy="199.5" rx="6.7" ry="3.9" fill="#b443a7" transform="rotate(-31 572.2 199.5)"/><ellipse cx="627.2" cy="187.9" rx="6.7" ry="4.1" fill="#8546be" transform="rotate(-34 627.2 187.9)"/><ellipse cx="621.6" cy="176.4" rx="5.7" ry="3.7" fill="#582561" transform="rotate(-14 621.6 176.4)"/><ellipse cx="572.1" cy="174.0" rx="5.5" ry="3.3" fill="#933fa3" transform="rotate(15 572.1 174.0)"/><ellipse cx="578.1" cy="140.0" rx="5.3" ry="3.6" fill="#883078" transform="rotate(-30 578.1 140.0)"/><ellipse cx="649.5" cy="147.7" rx="5.9" ry="3.5" fill="#b73160" transform="rotate(67 649.5 147.7)"/><ellipse cx="601" cy="153.6" rx="5" ry="4.2" fill="#f03a90"/><ellipse cx="576" cy="117.6" rx="5" ry="4.2" fill="#ee3a7a"/><ellipse cx="663" cy="179.6" rx="4.4" ry="3.7" fill="#d04aa0"/></g></g><rect x="668.1" y="198.0" width="22.4" height="1.7" fill="#fff"/>
<text x="727.2" y="14.7" font-size="15.5" font-weight="bold" fill="#000">D</text><text x="750.5" y="58.5" font-size="10.2" fill="#1c1c1c" transform="rotate(-90 750.5 58.5)">sh-Ctr</text><text x="799" y="58.5" font-size="10.2" fill="#1c1c1c" transform="rotate(-90 799 58.5)">sh-HEY1-2</text><rect x="726.5" y="63.5" width="88" height="96" fill="#d9d9d6"/><g clip-path="url(#c7)" filter="url(#b05)"><ellipse cx="762.5" cy="85" rx="4.5" ry="3.2" fill="#ebeaed" opacity="0.85"/><ellipse cx="778" cy="84" rx="4.5" ry="3.2" fill="#ebeaed" opacity="0.85"/><ellipse cx="809" cy="84" rx="3.5" ry="3.2" fill="#ebeaed" opacity="0.85"/><g transform="rotate(1.5 745 160)"><ellipse cx="745" cy="74" rx="13.25" ry="4.5" fill="#eedbe8" opacity="0.9"/><path d="M734.25 75L737.5 154Q745 165 752.5 154L755.75 75Z" fill="#e3e1e5" stroke="#c6c2ca" stroke-width="0.8" opacity="0.92"/><path d="M737.25 82L740.5 128.5" stroke="#f2f1f4" stroke-width="2.2" opacity="0.8"/><path d="M737.2 132.5L738.1 154Q745 164 751.9 154L752.8 132.5Z" fill="url(#gPink)"/><ellipse cx="745" cy="132.5" rx="7.6" ry="1.4" fill="#f590d8" opacity="0.9"/><ellipse cx="746" cy="151" rx="1.7" ry="1.1" fill="#fff" opacity="0.9"/><ellipse cx="746" cy="73.5" rx="4" ry="2.4" fill="#f4a0d8" opacity="0.75"/></g><g transform="rotate(-2 796 158.5)"><ellipse cx="796" cy="74" rx="13.75" ry="4.5" fill="#eedbe8" opacity="0.9"/><path d="M784.75 75L788.0 152.5Q796 163.5 804.0 152.5L807.25 75Z" fill="#e3e1e5" stroke="#c6c2ca" stroke-width="0.8" opacity="0.92"/><path d="M787.75 82L791.0 129.5" stroke="#f2f1f4" stroke-width="2.2" opacity="0.8"/><path d="M787.8 133.5L788.6 152.5Q796 162.5 803.4 152.5L804.2 133.5Z" fill="url(#gPink)"/><ellipse cx="796" cy="133.5" rx="8.0" ry="1.4" fill="#f590d8" opacity="0.9"/><ellipse cx="797" cy="149.5" rx="1.7" ry="1.1" fill="#fff" opacity="0.9"/><ellipse cx="797" cy="73.5" rx="4" ry="2.4" fill="#f4a0d8" opacity="0.75"/></g></g>
<text x="283.2" y="219.3" font-size="16" font-weight="bold" fill="#000">E</text><text x="402.7" y="229.2" font-size="13.5" text-anchor="middle" fill="#1c1c1c">143B-shRNA-Control</text><text x="645.3" y="229.2" font-size="13.5" text-anchor="middle" fill="#1c1c1c">143B-shRNA-HEY1-2</text><path d="M283.6 237.3V234.3H522.3V237.3" stroke="#3a3a3a" stroke-width="1.15" fill="none"/><path d="M527.5 237.3V234.3H764V237.3" stroke="#3a3a3a" stroke-width="1.15" fill="none"/><rect x="283.5" y="238.5" width="77.5" height="195" fill="#050505"/><g clip-path="url(#c8)"><g filter="url(#b1)"><path d="M320 358C318 385 316 410 315.0 436" stroke="#464646" stroke-width="3.4" fill="none"/><path d="M307.0 360L296.0 375" stroke="#363636" stroke-width="5" stroke-linecap="round"/><path d="M335.0 360L345.0 377" stroke="#363636" stroke-width="5" stroke-linecap="round"/><ellipse cx="321" cy="251" rx="8" ry="11" fill="#3a3a3a"/><path d="M313.0 261C301.0 266 299.0 276 301.5 286C305.0 297 306.0 306 304.5 316C301.0 331 298.5 346 302.0 358C312.0 367 330.0 367 340.0 358C343.5 346 341.0 331 337.5 316C336.0 306 337.0 297 340.5 286C343.0 276 341.0 266 329.0 261Z" fill="url(#gBodyV)"/><ellipse cx="306.0" cy="275" rx="6.5" ry="6" fill="#6c6c6c" opacity="0.9" transform="rotate(-30 306.0 275)"/><ellipse cx="336.0" cy="275" rx="6.5" ry="6" fill="#6c6c6c" opacity="0.9" transform="rotate(30 336.0 275)"/><ellipse cx="315" cy="289" rx="3" ry="7" fill="#2a2a2a" opacity="0.7"/><ellipse cx="327" cy="289" rx="3" ry="7" fill="#2a2a2a" opacity="0.7"/></g><rect x="309" y="256" width="24" height="6" fill="#0a0a0a" filter="url(#b05)"/><circle cx="316" cy="243" r="2" fill="none" stroke="#777" stroke-width="1" filter="url(#b05)"/><rect x="318" y="239" width="7" height="12" fill="#3c3c3c" opacity="0.8" filter="url(#b1)"/><g transform="rotate(-15 332.5 350)" filter="url(#b05)"><ellipse cx="332.5" cy="350.0" rx="11.0" ry="7.5" fill="#1d3fd0"/><ellipse cx="332.7" cy="350.2" rx="9.0" ry="6.1" fill="#1fa0e8"/><ellipse cx="332.9" cy="350.4" rx="7.1" ry="4.8" fill="#2fd05a"/><ellipse cx="333.2" cy="350.7" rx="5.2" ry="3.6" fill="#e8e020"/><ellipse cx="333.4" cy="350.9" rx="3.5" ry="2.4" fill="#f08018"/><ellipse cx="333.6" cy="351.1" rx="1.8" ry="1.2" fill="#f01010"/></g></g><rect x="364.5" y="238.5" width="77.5" height="195" fill="#050505"/><g clip-path="url(#c9)"><g filter="url(#b1)"><path d="M404 358C402 385 403 410 403.5 436" stroke="#464646" stroke-width="3.4" fill="none"/><path d="M391.0 360L380.0 375" stroke="#363636" stroke-width="5" stroke-linecap="round"/><path d="M419.0 360L429.0 377" stroke="#363636" stroke-width="5" stroke-linecap="round"/><ellipse cx="405" cy="251" rx="8" ry="11" fill="#3a3a3a"/><path d="M397.0 261C385.0 266 383.0 276 385.5 286C389.0 297 390.0 306 388.5 316C385.0 331 382.5 346 386.0 358C396.0 367 414.0 367 424.0 358C427.5 346 425.0 331 421.5 316C420.0 306 421.0 297 424.5 286C427.0 276 425.0 266 413.0 261Z" fill="url(#gBodyV)"/><ellipse cx="390.0" cy="275" rx="6.5" ry="6" fill="#6c6c6c" opacity="0.9" transform="rotate(-30 390.0 275)"/><ellipse cx="420.0" cy="275" rx="6.5" ry="6" fill="#6c6c6c" opacity="0.9" transform="rotate(30 420.0 275)"/><ellipse cx="399" cy="289" rx="3" ry="7" fill="#2a2a2a" opacity="0.7"/><ellipse cx="411" cy="289" rx="3" ry="7" fill="#2a2a2a" opacity="0.7"/></g><rect x="393" y="256" width="24" height="6" fill="#0a0a0a" filter="url(#b05)"/><circle cx="400" cy="243" r="2" fill="none" stroke="#777" stroke-width="1" filter="url(#b05)"/><rect x="402" y="239" width="7" height="12" fill="#3c3c3c" opacity="0.8" filter="url(#b1)"/><ellipse cx="406" cy="246.5" rx="4.6" ry="3.8" fill="#2d5be0" filter="url(#b05)" transform="rotate(25 406 246.5)"/><g transform="rotate(10 416 341.5)" filter="url(#b05)"><ellipse cx="416.0" cy="341.5" rx="9.5" ry="12.5" fill="#1d3fd0"/><ellipse cx="416.2" cy="341.9" rx="7.8" ry="10.2" fill="#1fa0e8"/><ellipse cx="416.4" cy="342.2" rx="6.1" ry="8.1" fill="#2fd05a"/><ellipse cx="416.6" cy="342.6" rx="4.5" ry="5.9" fill="#e8e020"/><ellipse cx="416.8" cy="343.0" rx="3.0" ry="3.9" fill="#f08018"/><ellipse cx="416.9" cy="343.4" rx="1.5" ry="2.0" fill="#f01010"/></g></g><rect x="445" y="238.5" width="77.5" height="195" fill="#050505"/><g clip-path="url(#c10)"><g filter="url(#b1)"><path d="M479 358C477 385 481 410 483.0 436" stroke="#464646" stroke-width="3.4" fill="none"/><path d="M466.0 360L455.0 375" stroke="#363636" stroke-width="5" stroke-linecap="round"/><path d="M494.0 360L504.0 377" stroke="#363636" stroke-width="5" stroke-linecap="round"/><ellipse cx="480" cy="251" rx="8" ry="11" fill="#3a3a3a"/><path d="M472.0 261C460.0 266 458.0 276 460.5 286C464.0 297 465.0 306 463.5 316C460.0 331 457.5 346 461.0 358C471.0 367 489.0 367 499.0 358C502.5 346 500.0 331 496.5 316C495.0 306 496.0 297 499.5 286C502.0 276 500.0 266 488.0 261Z" fill="url(#gBodyV)"/><ellipse cx="465.0" cy="275" rx="6.5" ry="6" fill="#6c6c6c" opacity="0.9" transform="rotate(-30 465.0 275)"/><ellipse cx="495.0" cy="275" rx="6.5" ry="6" fill="#6c6c6c" opacity="0.9" transform="rotate(30 495.0 275)"/><ellipse cx="474" cy="289" rx="3" ry="7" fill="#2a2a2a" opacity="0.7"/><ellipse cx="486" cy="289" rx="3" ry="7" fill="#2a2a2a" opacity="0.7"/></g><rect x="468" y="256" width="24" height="6" fill="#0a0a0a" filter="url(#b05)"/><circle cx="475" cy="243" r="2" fill="none" stroke="#777" stroke-width="1" filter="url(#b05)"/><rect x="477" y="239" width="7" height="12" fill="#3c3c3c" opacity="0.8" filter="url(#b1)"/><ellipse cx="481" cy="246.5" rx="4.6" ry="3.8" fill="#2d5be0" filter="url(#b05)" transform="rotate(25 481 246.5)"/><g transform="rotate(-5 499.5 350)" filter="url(#b05)"><ellipse cx="499.5" cy="350.0" rx="8.5" ry="11.5" fill="#1d3fd0"/><ellipse cx="499.7" cy="350.3" rx="7.0" ry="9.4" fill="#1fa0e8"/><ellipse cx="499.8" cy="350.7" rx="5.5" ry="7.4" fill="#2fd05a"/><ellipse cx="500.0" cy="351.0" rx="4.0" ry="5.5" fill="#e8e020"/><ellipse cx="500.2" cy="351.4" rx="2.7" ry="3.6" fill="#f08018"/><ellipse cx="500.4" cy="351.7" rx="1.4" ry="1.9" fill="#f01010"/></g></g><rect x="527.5" y="238.5" width="77.5" height="195" fill="#050505"/><g clip-path="url(#c11)"><g filter="url(#b1)"><path d="M565 358C563 385 561 410 560.0 436" stroke="#464646" stroke-width="3.4" fill="none"/><path d="M552.0 360L541.0 375" stroke="#363636" stroke-width="5" stroke-linecap="round"/><path d="M580.0 360L590.0 377" stroke="#363636" stroke-width="5" stroke-linecap="round"/><ellipse cx="566" cy="251" rx="8" ry="11" fill="#3a3a3a"/><path d="M558.0 261C546.0 266 544.0 276 546.5 286C550.0 297 551.0 306 549.5 316C546.0 331 543.5 346 547.0 358C557.0 367 575.0 367 585.0 358C588.5 346 586.0 331 582.5 316C581.0 306 582.0 297 585.5 286C588.0 276 586.0 266 574.0 261Z" fill="url(#gBodyV)"/><ellipse cx="551.0" cy="275" rx="6.5" ry="6" fill="#6c6c6c" opacity="0.9" transform="rotate(-30 551.0 275)"/><ellipse cx="581.0" cy="275" rx="6.5" ry="6" fill="#6c6c6c" opacity="0.9" transform="rotate(30 581.0 275)"/><ellipse cx="560" cy="289" rx="3" ry="7" fill="#2a2a2a" opacity="0.7"/><ellipse cx="572" cy="289" rx="3" ry="7" fill="#2a2a2a" opacity="0.7"/></g><rect x="554" y="256" width="24" height="6" fill="#0a0a0a" filter="url(#b05)"/><circle cx="561" cy="243" r="2" fill="none" stroke="#777" stroke-width="1" filter="url(#b05)"/><rect x="563" y="239" width="7" height="12" fill="#3c3c3c" opacity="0.8" filter="url(#b1)"/><g transform="rotate(0 578.5 341)" filter="url(#b05)"><ellipse cx="578.5" cy="341.0" rx="4.2" ry="6.5" fill="#1d3fd0"/><ellipse cx="578.7" cy="341.4" rx="2.8" ry="4.3" fill="#1fa0e8"/><ellipse cx="578.8" cy="341.8" rx="1.4" ry="2.2" fill="#2fd05a"/></g></g><rect x="607.5" y="238.5" width="77.5" height="195" fill="#050505"/><g clip-path="url(#c12)"><g filter="url(#b1)"><path d="M643.5 358C641.5 385 639.5 410 638.5 436" stroke="#464646" stroke-width="3.4" fill="none"/><path d="M630.5 360L619.5 375" stroke="#363636" stroke-width="5" stroke-linecap="round"/><path d="M658.5 360L668.5 377" stroke="#363636" stroke-width="5" stroke-linecap="round"/><ellipse cx="644.5" cy="251" rx="8" ry="11" fill="#3a3a3a"/><path d="M636.5 261C624.5 266 622.5 276 625.0 286C628.5 297 629.5 306 628.0 316C624.5 331 622.0 346 625.5 358C635.5 367 653.5 367 663.5 358C667.0 346 664.5 331 661.0 316C659.5 306 660.5 297 664.0 286C666.5 276 664.5 266 652.5 261Z" fill="url(#gBodyV)"/><ellipse cx="629.5" cy="275" rx="6.5" ry="6" fill="#6c6c6c" opacity="0.9" transform="rotate(-30 629.5 275)"/><ellipse cx="659.5" cy="275" rx="6.5" ry="6" fill="#6c6c6c" opacity="0.9" transform="rotate(30 659.5 275)"/><ellipse cx="638.5" cy="289" rx="3" ry="7" fill="#2a2a2a" opacity="0.7"/><ellipse cx="650.5" cy="289" rx="3" ry="7" fill="#2a2a2a" opacity="0.7"/></g><rect x="632.5" y="256" width="24" height="6" fill="#0a0a0a" filter="url(#b05)"/><circle cx="639.5" cy="243" r="2" fill="none" stroke="#777" stroke-width="1" filter="url(#b05)"/><rect x="641.5" y="239" width="7" height="12" fill="#3c3c3c" opacity="0.8" filter="url(#b1)"/><g transform="rotate(0 660 350.5)" filter="url(#b05)"><ellipse cx="660.0" cy="350.5" rx="4.2" ry="7.5" fill="#1d3fd0"/><ellipse cx="660.3" cy="351.2" rx="2.2" ry="3.9" fill="#1fa0e8"/></g></g><rect x="687" y="238.5" width="77.5" height="195" fill="#050505"/><g clip-path="url(#c13)"><g filter="url(#b1)"><path d="M724 358C722 385 724 410 725.0 436" stroke="#464646" stroke-width="3.4" fill="none"/><path d="M711.0 360L700.0 375" stroke="#363636" stroke-width="5" stroke-linecap="round"/><path d="M739.0 360L749.0 377" stroke="#363636" stroke-width="5" stroke-linecap="round"/><ellipse cx="725" cy="251" rx="8" ry="11" fill="#3a3a3a"/><path d="M717.0 261C705.0 266 703.0 276 705.5 286C709.0 297 710.0 306 708.5 316C705.0 331 702.5 346 706.0 358C716.0 367 734.0 367 744.0 358C747.5 346 745.0 331 741.5 316C740.0 306 741.0 297 744.5 286C747.0 276 745.0 266 733.0 261Z" fill="url(#gBodyV)"/><ellipse cx="710.0" cy="275" rx="6.5" ry="6" fill="#6c6c6c" opacity="0.9" transform="rotate(-30 710.0 275)"/><ellipse cx="740.0" cy="275" rx="6.5" ry="6" fill="#6c6c6c" opacity="0.9" transform="rotate(30 740.0 275)"/><ellipse cx="719" cy="289" rx="3" ry="7" fill="#2a2a2a" opacity="0.7"/><ellipse cx="731" cy="289" rx="3" ry="7" fill="#2a2a2a" opacity="0.7"/></g><rect x="713" y="256" width="24" height="6" fill="#0a0a0a" filter="url(#b05)"/><circle cx="720" cy="243" r="2" fill="none" stroke="#777" stroke-width="1" filter="url(#b05)"/><rect x="722" y="239" width="7" height="12" fill="#3c3c3c" opacity="0.8" filter="url(#b1)"/><g transform="rotate(10 742 341)" filter="url(#b05)"><ellipse cx="742.0" cy="341.0" rx="4.0" ry="7.5" fill="#1d3fd0"/><ellipse cx="742.2" cy="341.4" rx="2.6" ry="5.0" fill="#1fa0e8"/><ellipse cx="742.3" cy="341.9" rx="1.4" ry="2.6" fill="#2fd05a"/></g></g><rect x="782.8" y="254" width="13.4" height="152.7" fill="url(#gCbar)"/><text x="789.6" y="236" font-size="10.2" text-anchor="middle" fill="#1c1c1c">MAX</text><text x="794.5" y="250.6" font-size="9.6" text-anchor="middle" fill="#1c1c1c">3.169×10<tspan font-size="6.6" dy="-3.6">4</tspan></text><text x="794.5" y="419.4" font-size="9.6" text-anchor="middle" fill="#1c1c1c">0.292×10<tspan font-size="6.6" dy="-3.6">4</tspan></text><text x="789.6" y="430.4" font-size="10.2" text-anchor="middle" fill="#1c1c1c">MIN</text><text x="811.5" y="331.5" font-size="10.4" text-anchor="middle" fill="#1c1c1c" transform="rotate(-90 811.5 331.5)">Fluorescence (c/mm<tspan font-size="6.6" dy="-3.4">2</tspan><tspan dy="3.4">)</tspan></text>
<text x="4.2" y="460.7" font-size="16" font-weight="bold" fill="#000">F</text><text x="20.8" y="486" font-size="10.2" fill="#1c1c1c" transform="rotate(-90 20.8 486)">sh-Ctr</text><text x="20.8" y="561" font-size="10.2" fill="#1c1c1c" transform="rotate(-90 20.8 561)">sh-HEY1-2</text><rect x="25.3" y="449" width="243.5" height="145.4" fill="url(#gFbg)"/><g clip-path="url(#c14)"><ellipse cx="258.1" cy="553.3" rx="8.7" ry="3.3" fill="#c2e4f0" opacity="0.35" filter="url(#b3)" transform="rotate(19 258.1 553.3)"/><ellipse cx="188.4" cy="482.9" rx="15.3" ry="5.4" fill="#c2e4f0" opacity="0.35" filter="url(#b3)" transform="rotate(40 188.4 482.9)"/><ellipse cx="180.8" cy="537.4" rx="18.3" ry="5.0" fill="#92c4d8" opacity="0.35" filter="url(#b3)" transform="rotate(4 180.8 537.4)"/><ellipse cx="133.6" cy="478.5" rx="8.4" ry="3.1" fill="#92c4d8" opacity="0.35" filter="url(#b3)" transform="rotate(35 133.6 478.5)"/><ellipse cx="246.3" cy="495.6" rx="18.6" ry="3.7" fill="#c2e4f0" opacity="0.35" filter="url(#b3)" transform="rotate(-21 246.3 495.6)"/><ellipse cx="31.1" cy="484.8" rx="9.6" ry="5.0" fill="#c2e4f0" opacity="0.35" filter="url(#b3)" transform="rotate(40 31.1 484.8)"/><ellipse cx="133.8" cy="494.6" rx="14.3" ry="6.6" fill="#92c4d8" opacity="0.35" filter="url(#b3)" transform="rotate(23 133.8 494.6)"/><ellipse cx="111.4" cy="556.9" rx="19.5" ry="3.6" fill="#92c4d8" opacity="0.35" filter="url(#b3)" transform="rotate(17 111.4 556.9)"/><ellipse cx="137.7" cy="507.3" rx="13.9" ry="6.7" fill="#92c4d8" opacity="0.35" filter="url(#b3)" transform="rotate(13 137.7 507.3)"/><ellipse cx="136.0" cy="548.3" rx="12.2" ry="5.9" fill="#92c4d8" opacity="0.35" filter="url(#b3)" transform="rotate(-1 136.0 548.3)"/><ellipse cx="79.3" cy="484.7" rx="16.4" ry="3.7" fill="#92c4d8" opacity="0.35" filter="url(#b3)" transform="rotate(22 79.3 484.7)"/><ellipse cx="142.1" cy="482.4" rx="17.6" ry="6.3" fill="#92c4d8" opacity="0.35" filter="url(#b3)" transform="rotate(-15 142.1 482.4)"/><ellipse cx="75.9" cy="505.3" rx="19.2" ry="5.5" fill="#c2e4f0" opacity="0.35" filter="url(#b3)" transform="rotate(23 75.9 505.3)"/><ellipse cx="108.4" cy="449.9" rx="17.8" ry="7.0" fill="#c2e4f0" opacity="0.35" filter="url(#b3)" transform="rotate(-35 108.4 449.9)"/><ellipse cx="184.3" cy="479.0" rx="10.7" ry="6.5" fill="#c2e4f0" opacity="0.35" filter="url(#b3)" transform="rotate(20 184.3 479.0)"/><ellipse cx="58.5" cy="478.2" rx="17.9" ry="6.8" fill="#c2e4f0" opacity="0.35" filter="url(#b3)" transform="rotate(-6 58.5 478.2)"/><ellipse cx="199.9" cy="452.5" rx="12.3" ry="3.7" fill="#c2e4f0" opacity="0.35" filter="url(#b3)" transform="rotate(-33 199.9 452.5)"/><ellipse cx="257.7" cy="451.8" rx="16.8" ry="3.1" fill="#92c4d8" opacity="0.35" filter="url(#b3)" transform="rotate(-30 257.7 451.8)"/><ellipse cx="253.2" cy="529.8" rx="14.3" ry="3.0" fill="#c2e4f0" opacity="0.35" filter="url(#b3)" transform="rotate(24 253.2 529.8)"/><ellipse cx="85.6" cy="555.8" rx="8.1" ry="6.8" fill="#c2e4f0" opacity="0.35" filter="url(#b3)" transform="rotate(-17 85.6 555.8)"/><ellipse cx="144.3" cy="482.9" rx="14.6" ry="5.4" fill="#c2e4f0" opacity="0.35" filter="url(#b3)" transform="rotate(32 144.3 482.9)"/><ellipse cx="209.3" cy="543.9" rx="16.5" ry="4.9" fill="#c2e4f0" opacity="0.35" filter="url(#b3)" transform="rotate(-33 209.3 543.9)"/><ellipse cx="192.7" cy="541.2" rx="8.3" ry="6.2" fill="#c2e4f0" opacity="0.35" filter="url(#b3)" transform="rotate(1 192.7 541.2)"/><ellipse cx="215.5" cy="502.6" rx="11.9" ry="6.5" fill="#92c4d8" opacity="0.35" filter="url(#b3)" transform="rotate(-19 215.5 502.6)"/><ellipse cx="172.9" cy="495.2" rx="8.2" ry="5.2" fill="#c2e4f0" opacity="0.35" filter="url(#b3)" transform="rotate(14 172.9 495.2)"/><ellipse cx="86.9" cy="463.5" rx="10.0" ry="4.8" fill="#c2e4f0" opacity="0.35" filter="url(#b3)" transform="rotate(1 86.9 463.5)"/><g filter="url(#b1)"><ellipse cx="56.2" cy="473.1" rx="14.8" ry="13.8" fill="#547f94" opacity="0.5"/><ellipse cx="51.2" cy="466.6" rx="9.8" ry="8.8" fill="#547f94" opacity="0.5"/><ellipse cx="63.2" cy="464.6" rx="9.3" ry="8.3" fill="#547f94" opacity="0.5"/><ellipse cx="49.2" cy="478.6" rx="8.8" ry="7.8" fill="#547f94" opacity="0.5"/><ellipse cx="62.2" cy="479.6" rx="10.3" ry="9.3" fill="#547f94" opacity="0.5"/><ellipse cx="55" cy="471.5" rx="14" ry="13" fill="#da8478"/><ellipse cx="50" cy="465" rx="9" ry="8" fill="#da8478"/><ellipse cx="62" cy="463" rx="8.5" ry="7.5" fill="#da8478"/><ellipse cx="48" cy="477" rx="8" ry="7" fill="#da8478"/><ellipse cx="61" cy="478" rx="9.5" ry="8.5" fill="#da8478"/><ellipse cx="52.2" cy="468.2" rx="7.0" ry="5.9" fill="#f0aea2" opacity="0.5"/><ellipse cx="48.2" cy="463.0" rx="4.5" ry="3.6" fill="#f0aea2" opacity="0.5"/><ellipse cx="60.3" cy="461.1" rx="4.2" ry="3.4" fill="#f0aea2" opacity="0.5"/><ellipse cx="46.4" cy="475.2" rx="4.0" ry="3.1" fill="#f0aea2" opacity="0.5"/><ellipse cx="59.1" cy="475.9" rx="4.8" ry="3.8" fill="#f0aea2" opacity="0.5"/></g><g filter="url(#b1)"><ellipse cx="149.2" cy="470.6" rx="15.8" ry="12.3" fill="#547f94" opacity="0.5"/><ellipse cx="142.2" cy="466.6" rx="10.3" ry="9.3" fill="#547f94" opacity="0.5"/><ellipse cx="156.2" cy="467.6" rx="10.8" ry="9.8" fill="#547f94" opacity="0.5"/><ellipse cx="148.2" cy="475.6" rx="13.8" ry="9.3" fill="#547f94" opacity="0.5"/><ellipse cx="148" cy="469" rx="15" ry="11.5" fill="#bb685e"/><ellipse cx="141" cy="465" rx="9.5" ry="8.5" fill="#bb685e"/><ellipse cx="155" cy="466" rx="10" ry="9" fill="#bb685e"/><ellipse cx="147" cy="474" rx="13" ry="8.5" fill="#bb685e"/><ellipse cx="145.0" cy="466.1" rx="7.5" ry="5.2" fill="#d88a7c" opacity="0.5"/><ellipse cx="139.1" cy="462.9" rx="4.8" ry="3.8" fill="#d88a7c" opacity="0.5"/><ellipse cx="153.0" cy="463.8" rx="5.0" ry="4.0" fill="#d88a7c" opacity="0.5"/><ellipse cx="144.4" cy="471.9" rx="6.5" ry="3.8" fill="#d88a7c" opacity="0.5"/></g><g filter="url(#b1)"><ellipse cx="141" cy="461.5" rx="8" ry="5" fill="#a65852"/><ellipse cx="152" cy="460.5" rx="7" ry="5" fill="#a65852"/><ellipse cx="139.4" cy="460.2" rx="4.0" ry="2.2" fill="#b86a60" opacity="0.5"/><ellipse cx="150.6" cy="459.2" rx="3.5" ry="2.2" fill="#b86a60" opacity="0.5"/></g><g filter="url(#b1)"><ellipse cx="243.2" cy="475.6" rx="15.8" ry="12.8" fill="#547f94" opacity="0.5"/><ellipse cx="237.2" cy="471.6" rx="11.8" ry="10.8" fill="#547f94" opacity="0.5"/><ellipse cx="249.2" cy="476.6" rx="11.3" ry="10.8" fill="#547f94" opacity="0.5"/><ellipse cx="239.2" cy="481.6" rx="9.8" ry="7.8" fill="#547f94" opacity="0.5"/><ellipse cx="242" cy="474" rx="15" ry="12" fill="#c96e64"/><ellipse cx="236" cy="470" rx="11" ry="10" fill="#c96e64"/><ellipse cx="248" cy="475" rx="10.5" ry="10" fill="#c96e64"/><ellipse cx="238" cy="480" rx="9" ry="7" fill="#c96e64"/><ellipse cx="239.0" cy="471.0" rx="7.5" ry="5.4" fill="#e09688" opacity="0.5"/><ellipse cx="233.8" cy="467.5" rx="5.5" ry="4.5" fill="#e09688" opacity="0.5"/><ellipse cx="245.9" cy="472.5" rx="5.2" ry="4.5" fill="#e09688" opacity="0.5"/><ellipse cx="236.2" cy="478.2" rx="4.5" ry="3.1" fill="#e09688" opacity="0.5"/></g><g filter="url(#b1)"><ellipse cx="47.2" cy="536.6" rx="6.3" ry="6.3" fill="#547f94" opacity="0.5"/><ellipse cx="54.2" cy="540.6" rx="7.8" ry="7.3" fill="#547f94" opacity="0.5"/><ellipse cx="58.2" cy="544.6" rx="5.8" ry="5.3" fill="#547f94" opacity="0.5"/><ellipse cx="46" cy="535" rx="5.5" ry="5.5" fill="#e08c7e"/><ellipse cx="53" cy="539" rx="7" ry="6.5" fill="#e08c7e"/><ellipse cx="57" cy="543" rx="5" ry="4.5" fill="#e08c7e"/><ellipse cx="44.9" cy="533.6" rx="2.8" ry="2.5" fill="#f4b6a8" opacity="0.5"/><ellipse cx="51.6" cy="537.4" rx="3.5" ry="2.9" fill="#f4b6a8" opacity="0.5"/><ellipse cx="56.0" cy="541.9" rx="2.5" ry="2.0" fill="#f4b6a8" opacity="0.5"/></g><g filter="url(#b1)"><ellipse cx="139.2" cy="543.6" rx="7.8" ry="6.8" fill="#547f94" opacity="0.5"/><ellipse cx="148.2" cy="541.6" rx="6.8" ry="6.3" fill="#547f94" opacity="0.5"/><ellipse cx="154.2" cy="540.1" rx="5.3" ry="4.8" fill="#547f94" opacity="0.5"/><ellipse cx="138" cy="542" rx="7" ry="6" fill="#de887a"/><ellipse cx="147" cy="540" rx="6" ry="5.5" fill="#de887a"/><ellipse cx="153" cy="538.5" rx="4.5" ry="4" fill="#de887a"/><ellipse cx="136.6" cy="540.5" rx="3.5" ry="2.7" fill="#f2b2a4" opacity="0.5"/><ellipse cx="145.8" cy="538.6" rx="3.0" ry="2.5" fill="#f2b2a4" opacity="0.5"/><ellipse cx="152.1" cy="537.5" rx="2.2" ry="1.8" fill="#f2b2a4" opacity="0.5"/></g><g filter="url(#b1)"><ellipse cx="242.7" cy="544.1" rx="8.8" ry="8.3" fill="#547f94" opacity="0.5"/><ellipse cx="241.5" cy="542.5" rx="8" ry="7.5" fill="#da7e70"/><ellipse cx="239.9" cy="540.6" rx="4.0" ry="3.4" fill="#eea89a" opacity="0.5"/></g><rect x="25.3" y="559.5" width="243.5" height="40" fill="#a9c5d0"/><rect x="25.3" y="574" width="243.5" height="5" fill="#c0d6de" opacity="0.7" filter="url(#b1)"/><rect x="25.3" y="558.8" width="243.5" height="1.8" fill="#6d8d9c" opacity="0.6" filter="url(#b05)"/><path d="M29.60 561V579M32.37 561V573M35.14 561V573M37.92 561V573M40.69 561V573M43.46 561V576M46.23 561V573M49.00 561V573M51.78 561V573M54.55 561V573M57.32 561V579M60.09 561V573M62.86 561V573M65.64 561V573M68.41 561V573M71.18 561V576M73.95 561V573M76.72 561V573M79.50 561V573M82.27 561V573M85.04 561V579M87.81 561V573M90.58 561V573M93.36 561V573M96.13 561V573M98.90 561V576M101.67 561V573M104.44 561V573M107.22 561V573M109.99 561V573M112.76 561V579M115.53 561V573M118.30 561V573M121.08 561V573M123.85 561V573M126.62 561V576M129.39 561V573M132.16 561V573M134.94 561V573M137.71 561V573M140.48 561V579M143.25 561V573M146.02 561V573M148.80 561V573M151.57 561V573M154.34 561V576M157.11 561V573M159.88 561V573M162.66 561V573M165.43 561V573M168.20 561V579M170.97 561V573M173.74 561V573M176.52 561V573M179.29 561V573M182.06 561V576M184.83 561V573M187.60 561V573M190.38 561V573M193.15 561V573M195.92 561V579M198.69 561V573M201.46 561V573M204.24 561V573M207.01 561V573M209.78 561V576M212.55 561V573M215.32 561V573M218.10 561V573M220.87 561V573M223.64 561V579M226.41 561V573M229.18 561V573M231.96 561V573M234.73 561V573M237.50 561V576M240.27 561V573M243.04 561V573M245.82 561V573M248.59 561V573M251.36 561V579M254.13 561V573M256.90 561V573M259.68 561V573M262.45 561V573M265.22 561V576M267.99 561V573M270.76 561V573" stroke="#3a4f5a" stroke-width="0.9" opacity="0.55" filter="url(#b05)"/><text x="29.6" y="590.4" font-size="10" text-anchor="middle" font-weight="bold" fill="#2a3a46">0</text><text x="54.82" y="590.4" font-size="10" font-weight="bold" fill="#2a3a46">1<tspan font-size="9" dx="0.5">cm</tspan></text><text x="85.03999999999999" y="590.4" font-size="10" text-anchor="middle" font-weight="bold" fill="#2a3a46">2</text><text x="112.75999999999999" y="590.4" font-size="10" text-anchor="middle" font-weight="bold" fill="#2a3a46">3</text><text x="140.48" y="590.4" font-size="10" text-anchor="middle" font-weight="bold" fill="#2a3a46">4</text><text x="168.2" y="590.4" font-size="10" text-anchor="middle" font-weight="bold" fill="#2a3a46">5</text><text x="195.92" y="590.4" font-size="10" text-anchor="middle" font-weight="bold" fill="#2a3a46">6</text><text x="223.64" y="590.4" font-size="10" text-anchor="middle" font-weight="bold" fill="#2a3a46">7</text><text x="251.35999999999999" y="590.4" font-size="10" text-anchor="middle" font-weight="bold" fill="#2a3a46">8</text></g>
<text x="275.8" y="461" font-size="16.3" font-weight="bold" fill="#000">G</text><path d="M321.2 454.2V577.9H492" stroke="#222" stroke-width="1.3" fill="none"/><path d="M317.4 577.9H321.2" stroke="#222" stroke-width="1.2"/><text x="316.5" y="581.5" font-size="10" text-anchor="end" fill="#1c1c1c">0</text><path d="M317.4 553.3H321.2" stroke="#222" stroke-width="1.2"/><text x="316.5" y="556.86" font-size="10" text-anchor="end" fill="#1c1c1c">200</text><path d="M317.4 528.6H321.2" stroke="#222" stroke-width="1.2"/><text x="316.5" y="532.22" font-size="10" text-anchor="end" fill="#1c1c1c">400</text><path d="M317.4 504.0H321.2" stroke="#222" stroke-width="1.2"/><text x="316.5" y="507.58" font-size="10" text-anchor="end" fill="#1c1c1c">600</text><path d="M317.4 479.3H321.2" stroke="#222" stroke-width="1.2"/><text x="316.5" y="482.94" font-size="10" text-anchor="end" fill="#1c1c1c">800</text><path d="M317.4 454.7H321.2" stroke="#222" stroke-width="1.2"/><text x="316.5" y="458.3" font-size="10" text-anchor="end" fill="#1c1c1c">1000</text><path d="M321.2 577.9V581.1" stroke="#222" stroke-width="1.2"/><text x="321.2" y="590.6" font-size="10" text-anchor="middle" fill="#1c1c1c">0</text><path d="M347.4 577.9V581.1" stroke="#222" stroke-width="1.2"/><text x="347.45" y="590.6" font-size="10" text-anchor="middle" fill="#1c1c1c">5</text><path d="M373.7 577.9V581.1" stroke="#222" stroke-width="1.2"/><text x="373.7" y="590.6" font-size="10" text-anchor="middle" fill="#1c1c1c">10</text><path d="M399.9 577.9V581.1" stroke="#222" stroke-width="1.2"/><text x="399.95" y="590.6" font-size="10" text-anchor="middle" fill="#1c1c1c">15</text><path d="M426.2 577.9V581.1" stroke="#222" stroke-width="1.2"/><text x="426.2" y="590.6" font-size="10" text-anchor="middle" fill="#1c1c1c">20</text><path d="M452.4 577.9V581.1" stroke="#222" stroke-width="1.2"/><text x="452.45" y="590.6" font-size="10" text-anchor="middle" fill="#1c1c1c">25</text><path d="M478.7 577.9V581.1" stroke="#222" stroke-width="1.2"/><text x="478.7" y="590.6" font-size="10" text-anchor="middle" fill="#1c1c1c">30</text><text x="469.5" y="600.6" font-size="10" text-anchor="middle" fill="#1c1c1c">(Days)</text><text x="294.3" y="513.5" font-size="10.2" text-anchor="middle" fill="#1c1c1c" transform="rotate(-90 294.3 513.5)">Tumor volume (mm<tspan font-size="6.8" dy="-3.6">3</tspan><tspan dy="3.6">)</tspan></text><polyline points="321.2,577.9 347.4,577.9 373.7,577.9 399.9,577.9 426.2,575.6 452.4,571.9 478.7,563.5" fill="none" stroke="#3c7f68" stroke-width="1.3"/><circle cx="321.2" cy="577.9" r="1.9" fill="none" stroke="#3c7f68" stroke-width="1.1"/><circle cx="347.4" cy="577.9" r="1.9" fill="none" stroke="#3c7f68" stroke-width="1.1"/><circle cx="373.7" cy="577.9" r="1.9" fill="none" stroke="#3c7f68" stroke-width="1.1"/><circle cx="399.9" cy="577.9" r="1.9" fill="none" stroke="#3c7f68" stroke-width="1.1"/><circle cx="426.2" cy="575.6" r="1.9" fill="none" stroke="#3c7f68" stroke-width="1.1"/><circle cx="452.4" cy="571.9" r="1.9" fill="none" stroke="#3c7f68" stroke-width="1.1"/><circle cx="478.7" cy="563.5" r="1.9" fill="none" stroke="#3c7f68" stroke-width="1.1"/><path d="M478.7 560.5V566.5M476.1 560.5H481.3M476.1 566.5H481.3" stroke="#3c7f68" stroke-width="1.1" fill="none"/><polyline points="321.2,577.9 347.4,577.9 373.7,577.9 399.9,573.2 426.2,563.1 452.4,543.3 478.7,484.4" fill="none" stroke="#c9253a" stroke-width="1.3"/><path d="M321.2 575.6L323.4 579.6H319.0Z" fill="none" stroke="#c9253a" stroke-width="1.1"/><path d="M347.4 575.6L349.6 579.6H345.3Z" fill="none" stroke="#c9253a" stroke-width="1.1"/><path d="M373.7 575.6L375.9 579.6H371.5Z" fill="none" stroke="#c9253a" stroke-width="1.1"/><path d="M399.9 570.9L402.1 574.9H397.8Z" fill="none" stroke="#c9253a" stroke-width="1.1"/><path d="M426.2 560.8L428.4 564.8H424.0Z" fill="none" stroke="#c9253a" stroke-width="1.1"/><path d="M452.4 541.0L454.6 545.0H450.3Z" fill="none" stroke="#c9253a" stroke-width="1.1"/><path d="M478.7 482.1L480.9 486.1H476.5Z" fill="none" stroke="#c9253a" stroke-width="1.1"/><path d="M478.7 473.5V495.3M476.1 473.5H481.3M476.1 495.3H481.3" stroke="#c9253a" stroke-width="1.1" fill="none"/><path d="M452.4 538.8V547.8M450.2 538.8H454.6M450.2 547.8H454.6" stroke="#c9253a" stroke-width="1.1" fill="none"/><path d="M426.2 561.1V565.1M424.2 561.1H428.2M424.2 565.1H428.2" stroke="#c9253a" stroke-width="1.1" fill="none"/><path d="M336.4 463.2H349.6" stroke="#c9253a" stroke-width="1.3"/><path d="M343.0 460.9L345.2 464.9H340.8Z" fill="none" stroke="#c9253a" stroke-width="1.1"/><text x="356.8" y="466.6" font-size="10.2" fill="#1c1c1c">sh-Ctr</text><path d="M336.4 483H349.6" stroke="#3c7f68" stroke-width="1.3"/><circle cx="343.0" cy="483.0" r="1.9" fill="none" stroke="#3c7f68" stroke-width="1.1"/><text x="356.8" y="486.4" font-size="10.2" fill="#1c1c1c">sh-HEY1-2</text><path d="M483 484.6H487.4V563.4H483" stroke="#222" stroke-width="1.1" fill="none"/><text x="496.8" y="521.6" font-size="10.2" text-anchor="middle" fill="#1c1c1c" transform="rotate(-90 496.8 521.6)">P<tspan dx="0.6" dy="0.9" font-size="13.4">&lt;</tspan><tspan dx="0.6" dy="-0.9">0.001</tspan></text>
<text x="520.4" y="460.6" font-size="15" font-weight="bold" fill="#000">H</text><path d="M559.9 466V552.3H604.8" stroke="#222" stroke-width="1.3" fill="none"/><path d="M556.1 552.3H559.9" stroke="#222" stroke-width="1.2"/><text x="555.3" y="555.9" font-size="10" text-anchor="end" fill="#1c1c1c">0</text><path d="M556.1 523.7H559.9" stroke="#222" stroke-width="1.2"/><text x="555.3" y="527.3" font-size="10" text-anchor="end" fill="#1c1c1c">200</text><path d="M556.1 495.1H559.9" stroke="#222" stroke-width="1.2"/><text x="555.3" y="498.7" font-size="10" text-anchor="end" fill="#1c1c1c">400</text><path d="M556.1 466.5H559.9" stroke="#222" stroke-width="1.2"/><text x="555.3" y="470.09999999999997" font-size="10" text-anchor="end" fill="#1c1c1c">600</text><rect x="563.6" y="472.8" width="14.6" height="79.5" fill="url(#gBarG)" stroke="#222" stroke-width="1"/><path d="M566.5 471.8H575.3" stroke="#222" stroke-width="1.2"/><rect x="585.4" y="532.3" width="15" height="20.0" fill="url(#gBarR)" stroke="#222" stroke-width="1"/><path d="M592.9 532.3V530.6M588.6 530.6H597.2" stroke="#222" stroke-width="1.2"/><path d="M570.9 552.3V555.9M592.9 552.3V555.9" stroke="#222" stroke-width="1.2"/><path d="M570.5 470V466.6H592.8V470" stroke="#222" stroke-width="1.1" fill="none"/><text x="562" y="462.6" font-size="10.2" fill="#1c1c1c">P<tspan dx="0.6" dy="0.9" font-size="13.4">&lt;</tspan><tspan dx="0.6" dy="-0.9">0.001</tspan></text><text x="532" y="509.4" font-size="10.2" text-anchor="middle" fill="#1c1c1c" transform="rotate(-90 532 509.4)">Tumor weight (mg)</text><text x="574.6" y="563.2" font-size="9.9" text-anchor="end" fill="#1c1c1c" transform="rotate(-45 574.6 563.2)">sh-Ctr</text><text x="596.4" y="563.4" font-size="9.9" text-anchor="end" fill="#1c1c1c" transform="rotate(-45 596.4 563.4)">sh-HEY1-2</text>
<text x="627.2" y="461.3" font-size="16.8" font-weight="bold" fill="#000">I</text><text x="644.4" y="455.5" font-size="10.2" fill="#1c1c1c">pLent-C-HA:</text><text x="758.7" y="455.5" font-size="10.2" text-anchor="middle" fill="#1c1c1c">HA</text><path d="M758.7 456.5V461.8" stroke="#111" stroke-width="1.15" fill="none"/><path d="M758.7 466L755.9000000000001 460.6L758.7 461.8L761.5 460.6Z" fill="#111"/><rect x="644.4" y="465.8" width="36.5" height="14" fill="#fff"/><text x="662.65" y="476.40000000000003" font-size="10.2" text-anchor="middle" fill="#1c1c1c">5'-LTR</text><rect x="680.9" y="465.8" width="29.200000000000045" height="14" fill="url(#gBlue2)"/><text x="695.5" y="476.40000000000003" font-size="10.2" text-anchor="middle" fill="#1c1c1c">CMV</text><path d="M680.9 465.8V479.8" stroke="#555" stroke-width="0.6" opacity="0.7"/><rect x="710.1" y="465.8" width="46.39999999999998" height="14" fill="url(#gGrn2)"/><text x="733.3" y="476.40000000000003" font-size="10.2" text-anchor="middle" fill="#1c1c1c">ORF</text><path d="M710.1 465.8V479.8" stroke="#555" stroke-width="0.6" opacity="0.7"/><rect x="756.5" y="465.8" width="5.7000000000000455" height="14" fill="url(#gGray2)"/><path d="M756.5 465.8V479.8" stroke="#555" stroke-width="0.6" opacity="0.7"/><rect x="762.2" y="465.8" width="37.0" height="14" fill="#fff"/><text x="780.7" y="476.40000000000003" font-size="10.2" text-anchor="middle" fill="#1c1c1c">3'-LTR</text><path d="M762.2 465.8V479.8" stroke="#555" stroke-width="0.6" opacity="0.7"/><rect x="644.4" y="465.8" width="154.80000000000007" height="14" fill="none" stroke="#3a3a3a" stroke-width="1.2"/><text x="709.8" y="518.4" font-size="9.8" fill="#1c1c1c" transform="rotate(-45 709.8 518.4)">Control</text><text x="736.8" y="518.4" font-size="9.8" fill="#1c1c1c" transform="rotate(-45 736.8 518.4)">HEY1-OE</text><path d="M644 520.2H640.2V649.6H644" stroke="#222" stroke-width="1.2" fill="none"/><text x="634.4" y="585.8" font-size="10.2" text-anchor="middle" fill="#1c1c1c" transform="rotate(-90 634.4 585.8)">Saos-2 cells</text><text x="669.8" y="528.6" font-size="10.2" text-anchor="end" fill="#1c1c1c">55KD</text><path d="M672.3 525H681.2" stroke="#222" stroke-width="1.2"/><text x="669.8" y="545.6" font-size="10.2" text-anchor="end" fill="#1c1c1c">40KD</text><path d="M672.3 542H681.2" stroke="#222" stroke-width="1.2"/><text x="669.8" y="565.6" font-size="10.2" text-anchor="end" fill="#1c1c1c">35KD</text><path d="M672.3 562H681.2" stroke="#222" stroke-width="1.2"/><text x="669.8" y="593.5" font-size="10.2" text-anchor="end" fill="#1c1c1c">55KD</text><path d="M672.3 589.9H681.2" stroke="#222" stroke-width="1.2"/><text x="669.8" y="611.6" font-size="10.2" text-anchor="end" fill="#1c1c1c">40KD</text><path d="M672.3 608H681.2" stroke="#222" stroke-width="1.2"/><text x="669.8" y="630.5" font-size="10.2" text-anchor="end" fill="#1c1c1c">35KD</text><path d="M672.3 626.9H681.2" stroke="#222" stroke-width="1.2"/><rect x="681.2" y="519.7" width="85" height="64.2" fill="#e6e6e6"/><g clip-path="url(#c15)"><rect x="681.2" y="519.7" width="85" height="64.2" fill="#e1e1e1"/><rect x="682.5" y="523.4" width="12.0" height="3.2" rx="1.6" fill="#555" opacity="0.42" filter="url(#b1)"/><rect x="753.0" y="523.5" width="11.0" height="3.0" rx="1.5" fill="#555" opacity="0.36" filter="url(#b1)"/><rect x="682.5" y="540.4" width="12.0" height="3.2" rx="1.6" fill="#555" opacity="0.42" filter="url(#b1)"/><rect x="753.0" y="540.5" width="11.0" height="3.0" rx="1.5" fill="#555" opacity="0.36" filter="url(#b1)"/><rect x="682.5" y="560.4" width="12.0" height="3.2" rx="1.6" fill="#555" opacity="0.42" filter="url(#b1)"/><rect x="753.0" y="560.5" width="11.0" height="3.0" rx="1.5" fill="#555" opacity="0.36" filter="url(#b1)"/><rect x="682.5" y="578.4" width="12.0" height="3.2" rx="1.6" fill="#555" opacity="0.42" filter="url(#b1)"/><rect x="753.0" y="578.5" width="11.0" height="3.0" rx="1.5" fill="#555" opacity="0.36" filter="url(#b1)"/><rect x="699.0" y="551.5" width="14.0" height="3.0" rx="1.5" fill="#0a0a0a" opacity="0.1" filter="url(#b15)"/><rect x="725.3" y="550.8" width="21.0" height="8.0" rx="3.8" fill="#0a0a0a" opacity="1.0" filter="url(#b1)"/></g><rect x="681.2" y="519.7" width="85" height="64.2" fill="none" stroke="#222" stroke-width="1.1"/><rect x="681.2" y="587.2" width="85" height="63.4" fill="#e6e6e6"/><g clip-path="url(#c16)"><rect x="681.2" y="587.2" width="85" height="63.4" fill="#e1e1e1"/><rect x="682.5" y="588.4" width="12.0" height="3.2" rx="1.6" fill="#555" opacity="0.42" filter="url(#b1)"/><rect x="753.0" y="588.5" width="11.0" height="3.0" rx="1.5" fill="#555" opacity="0.36" filter="url(#b1)"/><rect x="682.5" y="606.4" width="12.0" height="3.2" rx="1.6" fill="#555" opacity="0.42" filter="url(#b1)"/><rect x="753.0" y="606.5" width="11.0" height="3.0" rx="1.5" fill="#555" opacity="0.36" filter="url(#b1)"/><rect x="682.5" y="625.4" width="12.0" height="3.2" rx="1.6" fill="#555" opacity="0.42" filter="url(#b1)"/><rect x="753.0" y="625.5" width="11.0" height="3.0" rx="1.5" fill="#555" opacity="0.36" filter="url(#b1)"/><rect x="682.5" y="643.4" width="12.0" height="3.2" rx="1.6" fill="#555" opacity="0.42" filter="url(#b1)"/><rect x="753.0" y="643.5" width="11.0" height="3.0" rx="1.5" fill="#555" opacity="0.36" filter="url(#b1)"/><rect x="698.0" y="598.1" width="25.0" height="8.2" rx="3.8" fill="#0a0a0a" opacity="1.0" filter="url(#b1)"/><rect x="722.0" y="599.3" width="25.0" height="8.2" rx="3.8" fill="#0a0a0a" opacity="1.0" filter="url(#b1)"/></g><rect x="681.2" y="587.2" width="85" height="63.4" fill="none" stroke="#222" stroke-width="1.1"/><path d="M773.5999999999999 554.8H781.2" stroke="#111" stroke-width="1.25" fill="none"/><path d="M768.3 554.8L775.0999999999999 551.9L773.5999999999999 554.8L775.0999999999999 557.6999999999999Z" fill="#111"/><text x="784" y="558.4" font-size="10.2" fill="#1c1c1c">HEY1</text><path d="M773.5999999999999 602.4H781.2" stroke="#111" stroke-width="1.25" fill="none"/><path d="M768.3 602.4L775.0999999999999 599.5L773.5999999999999 602.4L775.0999999999999 605.3Z" fill="#111"/><text x="784" y="606" font-size="10.2" fill="#1c1c1c">β-actin</text>
<text x="3.6" y="634.6" font-size="17" font-weight="bold" fill="#000">J</text><text x="79.8" y="630.6" font-size="10.2" text-anchor="middle" fill="#1c1c1c">HEY1-OE</text><text x="213.3" y="630.6" font-size="10.2" text-anchor="middle" fill="#1c1c1c">Control</text><path d="M32 637.4V634.4H128V637.4" stroke="#333" stroke-width="1.15" fill="none"/><path d="M165.4 637.4V634.4H261.6V637.4" stroke="#333" stroke-width="1.15" fill="none"/><rect x="4" y="640.2" width="273" height="167.3" fill="url(#gJbg)"/><g clip-path="url(#c17)"><ellipse cx="130.4" cy="702.7" rx="11.7" ry="8.3" fill="#78c8ee" opacity="0.3" filter="url(#b3)"/><ellipse cx="96.4" cy="717.8" rx="17.3" ry="5.7" fill="#78c8ee" opacity="0.3" filter="url(#b3)"/><ellipse cx="202.8" cy="668.5" rx="21.4" ry="8.8" fill="#3c94c8" opacity="0.3" filter="url(#b3)"/><ellipse cx="46.9" cy="680.0" rx="11.3" ry="6.5" fill="#78c8ee" opacity="0.3" filter="url(#b3)"/><ellipse cx="215.4" cy="704.4" rx="19.0" ry="4.5" fill="#3c94c8" opacity="0.3" filter="url(#b3)"/><ellipse cx="60.0" cy="677.7" rx="19.5" ry="8.4" fill="#3c94c8" opacity="0.3" filter="url(#b3)"/><ellipse cx="252.8" cy="706.5" rx="14.1" ry="4.2" fill="#78c8ee" opacity="0.3" filter="url(#b3)"/><ellipse cx="244.1" cy="649.4" rx="14.5" ry="6.5" fill="#78c8ee" opacity="0.3" filter="url(#b3)"/><ellipse cx="68.6" cy="763.4" rx="20.2" ry="8.8" fill="#78c8ee" opacity="0.3" filter="url(#b3)"/><ellipse cx="37.1" cy="737.0" rx="20.7" ry="5.0" fill="#78c8ee" opacity="0.3" filter="url(#b3)"/><ellipse cx="247.6" cy="662.5" rx="21.0" ry="6.5" fill="#3c94c8" opacity="0.3" filter="url(#b3)"/><ellipse cx="150.8" cy="673.4" rx="10.8" ry="5.0" fill="#78c8ee" opacity="0.3" filter="url(#b3)"/><ellipse cx="195.3" cy="664.5" rx="21.3" ry="7.6" fill="#78c8ee" opacity="0.3" filter="url(#b3)"/><ellipse cx="18.8" cy="733.1" rx="17.3" ry="4.7" fill="#3c94c8" opacity="0.3" filter="url(#b3)"/><ellipse cx="205.2" cy="736.4" rx="10.4" ry="8.3" fill="#3c94c8" opacity="0.3" filter="url(#b3)"/><ellipse cx="263.6" cy="679.8" rx="17.3" ry="4.2" fill="#3c94c8" opacity="0.3" filter="url(#b3)"/><ellipse cx="234.9" cy="727.5" rx="16.8" ry="7.4" fill="#3c94c8" opacity="0.3" filter="url(#b3)"/><ellipse cx="34.0" cy="787.7" rx="14.4" ry="5.1" fill="#78c8ee" opacity="0.3" filter="url(#b3)"/><g filter="url(#b1)"><path d="M98.5 668C90.5 682 88.5 694 88.5 716C88.5 760 86.0 761 103 760C120.0 761 127.5 760 127.5 716C127.5 694 125.5 682 127.5 668C120.2 659 105.8 659 98.5 668Z" fill="#2c5068" opacity="0.55" transform="translate(-2.5 2.5)"/><path d="M99.4 757C100 781 99.2 790 99.2 814H102.8C102.8 790 106 781 106.6 757Z" fill="#c8b7b7"/><ellipse cx="121.0" cy="659.0" rx="17.0" ry="10" fill="#c8b6b6" transform="rotate(-48 121.0 659.0)"/><path d="M98.5 668C90.5 682 88.5 694 88.5 716C88.5 760 86.0 761 103 760C120.0 761 127.5 760 127.5 716C127.5 694 125.5 682 127.5 668C120.2 659 105.8 659 98.5 668Z" fill="url(#gMouse)"/><ellipse cx="108.0" cy="722" rx="8" ry="12" fill="#958c8c" opacity="0.28"/><ellipse cx="103" cy="655" rx="8.5" ry="3.8" fill="#e6dccc" transform="rotate(22 103 655)"/><path d="M61.5 664C51.5 678 49.5 694 49.5 716C49.5 760 50.5 760 67.5 759C84.5 760 89.5 760 89.5 716C89.5 694 87.5 678 90.5 664C83.2 655 68.8 655 61.5 664Z" fill="#2c5068" opacity="0.55" transform="translate(-2.5 2.5)"/><path d="M63.9 756C64.5 780 67.2 790 67.2 814H70.8C70.8 790 70.5 780 71.1 756Z" fill="#c8b7b7"/><ellipse cx="84.0" cy="654.5" rx="17.4" ry="10" fill="#c8b6b6" transform="rotate(-50 84.0 654.5)"/><path d="M61.5 664C51.5 678 49.5 694 49.5 716C49.5 760 50.5 760 67.5 759C84.5 760 89.5 760 89.5 716C89.5 694 87.5 678 90.5 664C83.2 655 68.8 655 61.5 664Z" fill="url(#gMouse)"/><ellipse cx="69.5" cy="722" rx="8" ry="12" fill="#958c8c" opacity="0.28"/><ellipse cx="60" cy="653.5" rx="9" ry="3.8" fill="#e6dccc" transform="rotate(22 60 653.5)"/><path d="M15.5 663C7.5 677 5.5 688 5.5 710C5.5 754 10.5 758 27.5 757C44.5 758 50.5 754 50.5 710C50.5 688 48.5 677 46.5 663C38.8 654 23.2 654 15.5 663Z" fill="#2c5068" opacity="0.55" transform="translate(-2.5 2.5)"/><path d="M23.9 754C24.5 778 29.7 790 29.7 814H33.3C33.3 790 30.5 778 31.1 754Z" fill="#c8b7b7"/><ellipse cx="37.5" cy="655.8" rx="14.7" ry="10" fill="#c8b6b6" transform="rotate(-48 37.5 655.8)"/><path d="M15.5 663C7.5 677 5.5 688 5.5 710C5.5 754 10.5 758 27.5 757C44.5 758 50.5 754 50.5 710C50.5 688 48.5 677 46.5 663C38.8 654 23.2 654 15.5 663Z" fill="url(#gMouse)"/><ellipse cx="28.0" cy="716" rx="8" ry="12" fill="#958c8c" opacity="0.28"/><ellipse cx="20" cy="659.5" rx="11.5" ry="3.8" fill="#e6dccc" transform="rotate(14 20 659.5)"/><path d="M162.5 664C150.5 678 148.5 686 148.5 708C148.5 752 149.5 761 166.5 760C183.5 761 189.5 752 189.5 708C189.5 686 187.5 678 191.5 664C184.2 655 169.8 655 162.5 664Z" fill="#2c5068" opacity="0.55" transform="translate(-2.5 2.5)"/><path d="M162.9 757C163.5 781 165.7 790 165.7 814H169.3C169.3 790 169.5 781 170.1 757Z" fill="#c8b7b7"/><ellipse cx="181.5" cy="656.5" rx="13.7" ry="10" fill="#c8b6b6" transform="rotate(-59 181.5 656.5)"/><path d="M162.5 664C150.5 678 148.5 686 148.5 708C148.5 752 149.5 761 166.5 760C183.5 761 189.5 752 189.5 708C189.5 686 187.5 678 191.5 664C184.2 655 169.8 655 162.5 664Z" fill="url(#gMouse)"/><ellipse cx="169.0" cy="714" rx="8" ry="12" fill="#958c8c" opacity="0.28"/><ellipse cx="153" cy="663.5" rx="9" ry="3.8" fill="#e6dccc" transform="rotate(-12 153 663.5)"/><path d="M195.5 660C189.5 674 187.5 688 187.5 710C187.5 754 187.5 761.5 204.5 760.5C221.5 761.5 227 754 227 710C227 688 225.0 674 224.5 660C217.2 651 202.8 651 195.5 660Z" fill="#2c5068" opacity="0.55" transform="translate(-2.5 2.5)"/><path d="M200.9 757.5C201.5 781.5 199.2 790 199.2 814H202.8C202.8 790 207.5 781.5 208.1 757.5Z" fill="#c8b7b7"/><ellipse cx="211.5" cy="652.5" rx="12.6" ry="10" fill="#c8b6b6" transform="rotate(-79 211.5 652.5)"/><path d="M195.5 660C189.5 674 187.5 688 187.5 710C187.5 754 187.5 761.5 204.5 760.5C221.5 761.5 227 754 227 710C227 688 225.0 674 224.5 660C217.2 651 202.8 651 195.5 660Z" fill="url(#gMouse)"/><ellipse cx="207.2" cy="716" rx="8" ry="12" fill="#958c8c" opacity="0.28"/><ellipse cx="193" cy="660" rx="7" ry="3.8" fill="#e6dccc" transform="rotate(20 193 660)"/><path d="M231.5 660C227.5 674 225.5 688 225.5 710C225.5 754 228.5 763 245.5 762C262.5 763 264 754 264 710C264 688 262.0 674 260.5 660C253.2 651 238.8 651 231.5 660Z" fill="#2c5068" opacity="0.55" transform="translate(-2.5 2.5)"/><path d="M241.9 759C242.5 783 236.2 790 236.2 814H239.8C239.8 790 248.5 783 249.1 759Z" fill="#c8b7b7"/><ellipse cx="244.5" cy="652.0" rx="13.1" ry="10" fill="#c8b6b6" transform="rotate(-101 244.5 652.0)"/><path d="M231.5 660C227.5 674 225.5 688 225.5 710C225.5 754 228.5 763 245.5 762C262.5 763 264 754 264 710C264 688 262.0 674 260.5 660C253.2 651 238.8 651 231.5 660Z" fill="url(#gMouse)"/><ellipse cx="244.8" cy="716" rx="8" ry="12" fill="#958c8c" opacity="0.28"/><ellipse cx="230" cy="661" rx="8" ry="3.8" fill="#e6dccc" transform="rotate(-15 230 661)"/><ellipse cx="260" cy="660" rx="5" ry="3.5" fill="#d8cfc8"/><ellipse cx="52" cy="672" rx="3.5" ry="8" fill="#161c26" opacity="0.85"/><ellipse cx="92" cy="668" rx="3" ry="8" fill="#161c26" opacity="0.85"/><ellipse cx="50" cy="752" rx="2.5" ry="10" fill="#20202a" opacity="0.8"/><ellipse cx="89" cy="750" rx="2.5" ry="10" fill="#20202a" opacity="0.8"/><ellipse cx="188.5" cy="748" rx="2" ry="12" fill="#20202a" opacity="0.7"/><ellipse cx="226" cy="748" rx="2" ry="12" fill="#20202a" opacity="0.7"/><ellipse cx="189" cy="668" rx="2" ry="7" fill="#20202a" opacity="0.6"/><path d="M118 754L139 748" stroke="#cdbdbb" stroke-width="3.2" stroke-linecap="round"/><path d="M77 758L98 763" stroke="#cdbdbb" stroke-width="3.2" stroke-linecap="round"/><path d="M42 757L58 761" stroke="#cdbdbb" stroke-width="3" stroke-linecap="round"/><path d="M122 683L137 675" stroke="#cdbdbb" stroke-width="3" stroke-linecap="round"/><path d="M85 682L95 674" stroke="#cdbdbb" stroke-width="3.5" stroke-linecap="round"/><path d="M257 757L272 762" stroke="#cdbdbb" stroke-width="3" stroke-linecap="round"/><path d="M180 760L194 762" stroke="#cdbdbb" stroke-width="2.6" stroke-linecap="round"/><path d="M218 760L232 763" stroke="#cdbdbb" stroke-width="2.6" stroke-linecap="round"/></g></g>
<text x="317.4" y="634.6" font-size="17" font-weight="bold" fill="#000">K</text><text x="383.5" y="630.7" font-size="10.2" text-anchor="middle" fill="#1c1c1c">HEY1-OE</text><text x="432.6" y="630.7" font-size="10.2" text-anchor="middle" fill="#1c1c1c">Control</text><path d="M364.3 638V635H402.7V638" stroke="#333" stroke-width="1.15" fill="none"/><path d="M413.4 638V635H451.8V638" stroke="#333" stroke-width="1.15" fill="none"/><rect x="317" y="640.5" width="140.5" height="167.2" fill="#95b9e5"/><g clip-path="url(#c18)"><ellipse cx="383.6" cy="657.7" rx="12.0" ry="4.6" fill="#a2c4ea" opacity="0.35" filter="url(#b3)"/><ellipse cx="362.0" cy="732.4" rx="10.9" ry="8.0" fill="#a2c4ea" opacity="0.35" filter="url(#b3)"/><ellipse cx="382.2" cy="730.2" rx="10.8" ry="4.7" fill="#a2c4ea" opacity="0.35" filter="url(#b3)"/><ellipse cx="386.2" cy="798.2" rx="8.3" ry="6.6" fill="#78a2d6" opacity="0.35" filter="url(#b3)"/><ellipse cx="440.0" cy="672.8" rx="11.1" ry="6.5" fill="#78a2d6" opacity="0.35" filter="url(#b3)"/><ellipse cx="368.7" cy="741.8" rx="14.7" ry="6.0" fill="#a2c4ea" opacity="0.35" filter="url(#b3)"/><ellipse cx="384.7" cy="687.3" rx="17.4" ry="7.3" fill="#78a2d6" opacity="0.35" filter="url(#b3)"/><ellipse cx="360.7" cy="689.3" rx="15.0" ry="5.2" fill="#a2c4ea" opacity="0.35" filter="url(#b3)"/><ellipse cx="401.4" cy="740.6" rx="12.3" ry="4.6" fill="#78a2d6" opacity="0.35" filter="url(#b3)"/><ellipse cx="386.0" cy="773.8" rx="8.8" ry="5.9" fill="#78a2d6" opacity="0.35" filter="url(#b3)"/><ellipse cx="411.9" cy="748.8" rx="15.0" ry="4.6" fill="#a2c4ea" opacity="0.35" filter="url(#b3)"/><ellipse cx="366.6" cy="793.2" rx="14.4" ry="5.8" fill="#a2c4ea" opacity="0.35" filter="url(#b3)"/><ellipse cx="395.6" cy="765.4" rx="11.2" ry="6.2" fill="#78a2d6" opacity="0.35" filter="url(#b3)"/><ellipse cx="370.1" cy="650.8" rx="10.3" ry="7.1" fill="#a2c4ea" opacity="0.35" filter="url(#b3)"/><ellipse cx="372.2" cy="796.8" rx="10.9" ry="4.1" fill="#78a2d6" opacity="0.35" filter="url(#b3)"/><ellipse cx="429.7" cy="790.3" rx="17.5" ry="6.9" fill="#78a2d6" opacity="0.35" filter="url(#b3)"/><rect x="317" y="640.5" width="41.3" height="167.2" fill="#6b93cd"/><rect x="357.6" y="640.5" width="1.4" height="167.2" fill="#4a72b0" opacity="0.7" filter="url(#b05)"/><path d="M333.5 653.70H358M343 656.66H358M343 659.62H358M343 662.57H358M343 665.53H358M339 668.49H358M343 671.45H358M343 674.41H358M343 677.36H358M343 680.32H358M333.5 683.28H358M343 686.24H358M343 689.20H358M343 692.15H358M343 695.11H358M339 698.07H358M343 701.03H358M343 703.99H358M343 706.94H358M343 709.90H358M333.5 712.86H358M343 715.82H358M343 718.78H358M343 721.73H358M343 724.69H358M339 727.65H358M343 730.61H358M343 733.57H358M343 736.52H358M343 739.48H358M333.5 742.44H358M343 745.40H358M343 748.36H358M343 751.31H358M343 754.27H358M339 757.23H358M343 760.19H358M343 763.15H358M343 766.10H358M343 769.06H358M333.5 772.02H358M343 774.98H358M343 777.94H358M343 780.89H358M343 783.85H358M339 786.81H358M343 789.77H358M343 792.73H358M343 795.68H358M343 798.64H358M333.5 801.60H358" stroke="#15213c" stroke-width="1.05" opacity="0.78" filter="url(#b05)"/><text x="318.8" y="648.6" font-size="17.7" font-weight="bold" fill="#101a33" transform="rotate(90 318.8 648.6)">0</text><text x="318.8" y="658.8" font-size="9" font-weight="bold" fill="#101a33" transform="rotate(90 318.8 658.8)">cm</text><text x="323.6" y="680.6800000000001" font-size="9.2" font-weight="bold" fill="#101a33" transform="rotate(90 323.6 680.6800000000001)">1</text><text x="323.6" y="710.26" font-size="9.2" font-weight="bold" fill="#101a33" transform="rotate(90 323.6 710.26)">2</text><text x="323.6" y="739.84" font-size="9.2" font-weight="bold" fill="#101a33" transform="rotate(90 323.6 739.84)">3</text><text x="323.6" y="769.42" font-size="9.2" font-weight="bold" fill="#101a33" transform="rotate(90 323.6 769.42)">4</text><text x="318.8" y="796.4" font-size="17.7" font-weight="bold" fill="#101a33" transform="rotate(90 318.8 796.4)">5</text><g filter="url(#b15)"><ellipse cx="385.1" cy="665.5" rx="12.5" ry="18" fill="#5478a8" opacity="0.55"/><ellipse cx="383.6" cy="663.5" rx="11.5" ry="17" fill="#c88c78"/><ellipse cx="383.1" cy="664.5" rx="6.3" ry="10.2" fill="#e2b2a2" opacity="0.8"/><ellipse cx="385.5" cy="720.5" rx="12" ry="17" fill="#5478a8" opacity="0.55"/><ellipse cx="384" cy="718.5" rx="11" ry="16" fill="#c68872"/><ellipse cx="383.5" cy="719.5" rx="6.1" ry="9.6" fill="#deaa98" opacity="0.8"/><ellipse cx="386.5" cy="768.5" rx="12" ry="16.5" fill="#5478a8" opacity="0.55"/><ellipse cx="385" cy="766.5" rx="11" ry="15.5" fill="#bc7e6a"/><ellipse cx="384.5" cy="767.5" rx="6.1" ry="9.3" fill="#d4a08e" opacity="0.8"/></g></g>
<text x="500" y="659" font-size="15.5" font-weight="bold" fill="#000">L</text><path d="M534.2 667.8V790.5H688.8" stroke="#222" stroke-width="1.3" fill="none"/><path d="M530.8000000000001 790.5H534.2" stroke="#222" stroke-width="1.2"/><text x="529.4000000000001" y="794.1" font-size="10" text-anchor="end" fill="#1c1c1c">0</text><path d="M530.8000000000001 766.0H534.2" stroke="#222" stroke-width="1.2"/><text x="529.4000000000001" y="769.65" font-size="10" text-anchor="end" fill="#1c1c1c">100</text><path d="M530.8000000000001 741.6H534.2" stroke="#222" stroke-width="1.2"/><text x="529.4000000000001" y="745.2" font-size="10" text-anchor="end" fill="#1c1c1c">200</text><path d="M530.8000000000001 717.1H534.2" stroke="#222" stroke-width="1.2"/><text x="529.4000000000001" y="720.75" font-size="10" text-anchor="end" fill="#1c1c1c">300</text><path d="M530.8000000000001 692.7H534.2" stroke="#222" stroke-width="1.2"/><text x="529.4000000000001" y="696.3000000000001" font-size="10" text-anchor="end" fill="#1c1c1c">400</text><path d="M530.8000000000001 668.2H534.2" stroke="#222" stroke-width="1.2"/><text x="529.4000000000001" y="671.85" font-size="10" text-anchor="end" fill="#1c1c1c">500</text><text x="534.3" y="804" font-size="10" text-anchor="middle" fill="#1c1c1c">0</text><text x="557.42" y="804" font-size="10" text-anchor="middle" fill="#1c1c1c">10</text><text x="580.54" y="804" font-size="10" text-anchor="middle" fill="#1c1c1c">20</text><text x="603.66" y="804" font-size="10" text-anchor="middle" fill="#1c1c1c">30</text><text x="626.78" y="804" font-size="10" text-anchor="middle" fill="#1c1c1c">40</text><text x="649.9" y="804" font-size="10" text-anchor="middle" fill="#1c1c1c">50</text><text x="673.02" y="804" font-size="10" text-anchor="middle" fill="#1c1c1c">60</text><text x="672.5" y="782.2" font-size="10" text-anchor="middle" fill="#1c1c1c">(Days)</text><text x="507.8" y="728.8" font-size="10.2" text-anchor="middle" fill="#1c1c1c" transform="rotate(-90 507.8 728.8)">Tumor volume (mm<tspan font-size="6.8" dy="-3.6">3</tspan><tspan dy="3.6">)</tspan></text><path d="M534.3 790.5H673.0" stroke="#d63a78" stroke-width="1.1"/><circle cx="534.3" cy="790.5" r="2.9" fill="none" stroke="#d63a78" stroke-width="1.1"/><path d="M534.3 790.5V792.9" stroke="#d63a78" stroke-width="1"/><circle cx="557.4" cy="790.5" r="2.9" fill="none" stroke="#d63a78" stroke-width="1.1"/><path d="M557.4 790.5V792.9" stroke="#d63a78" stroke-width="1"/><circle cx="580.5" cy="790.5" r="2.9" fill="none" stroke="#d63a78" stroke-width="1.1"/><path d="M580.5 790.5V792.9" stroke="#d63a78" stroke-width="1"/><circle cx="603.7" cy="790.5" r="2.9" fill="none" stroke="#d63a78" stroke-width="1.1"/><path d="M603.7 790.5V792.9" stroke="#d63a78" stroke-width="1"/><circle cx="626.8" cy="790.5" r="2.9" fill="none" stroke="#d63a78" stroke-width="1.1"/><path d="M626.8 790.5V792.9" stroke="#d63a78" stroke-width="1"/><circle cx="649.9" cy="790.5" r="2.9" fill="none" stroke="#d63a78" stroke-width="1.1"/><path d="M649.9 790.5V792.9" stroke="#d63a78" stroke-width="1"/><circle cx="673.0" cy="790.5" r="2.9" fill="none" stroke="#d63a78" stroke-width="1.1"/><path d="M673.0 790.5V792.9" stroke="#d63a78" stroke-width="1"/><polyline points="534.3,790.5 557.4,790.5 580.5,790.5 603.7,780.0 626.8,764.3 649.9,742.6 673.0,686.3" fill="none" stroke="#234294" stroke-width="1.3"/><path d="M534.3 787.5L537.3 790.5L534.3 793.5L531.3 790.5Z" fill="none" stroke="#234294" stroke-width="1.1"/><path d="M557.4 787.5L560.4 790.5L557.4 793.5L554.4 790.5Z" fill="none" stroke="#234294" stroke-width="1.1"/><path d="M580.5 787.5L583.5 790.5L580.5 793.5L577.5 790.5Z" fill="none" stroke="#234294" stroke-width="1.1"/><path d="M603.7 777.0L606.7 780.0L603.7 783.0L600.7 780.0Z" fill="none" stroke="#234294" stroke-width="1.1"/><path d="M626.8 761.3L629.8 764.3L626.8 767.3L623.8 764.3Z" fill="none" stroke="#234294" stroke-width="1.1"/><path d="M649.9 739.6L652.9 742.6L649.9 745.6L646.9 742.6Z" fill="none" stroke="#234294" stroke-width="1.1"/><path d="M673.0 683.3L676.0 686.3L673.0 689.3L670.0 686.3Z" fill="none" stroke="#234294" stroke-width="1.1"/><path d="M626.8 760.0V769.3M624.0 760.0H629.6M624.0 769.3H629.6" stroke="#234294" stroke-width="1.1" fill="none"/><path d="M649.9 736.8V748.3M647.1 736.8H652.7M647.1 748.3H652.7" stroke="#234294" stroke-width="1.1" fill="none"/><path d="M673.0 676.3V696.3M669.6 676.3H676.4M669.6 696.3H676.4" stroke="#234294" stroke-width="1.1" fill="none"/><path d="M546.3 673.8H557.5" stroke="#d63a78" stroke-width="1.3"/><circle cx="551.9" cy="673.8" r="2.9" fill="none" stroke="#d63a78" stroke-width="1.1"/><text x="565.6" y="677.2" font-size="10.2" fill="#1c1c1c">Control</text><path d="M546.3 688.8H557.5" stroke="#234294" stroke-width="1.3"/><path d="M551.9 685.8L554.9 688.8L551.9 691.8L548.9 688.8Z" fill="none" stroke="#234294" stroke-width="1.1"/><text x="565.6" y="692.3" font-size="10.2" fill="#1c1c1c">HEY1-OE</text>
<text x="728.6" y="677" font-size="14.8" font-weight="bold" fill="#000">M</text><path d="M765 691.6V765.9H815" stroke="#222" stroke-width="1.3" fill="none"/><path d="M761.4 765.9H765" stroke="#222" stroke-width="1.2"/><text x="759.8" y="769.5" font-size="10" text-anchor="end" fill="#1c1c1c">0</text><path d="M761.4 751.1H765" stroke="#222" stroke-width="1.2"/><text x="759.8" y="754.74" font-size="10" text-anchor="end" fill="#1c1c1c">100</text><path d="M761.4 736.4H765" stroke="#222" stroke-width="1.2"/><text x="759.8" y="739.98" font-size="10" text-anchor="end" fill="#1c1c1c">200</text><path d="M761.4 721.6H765" stroke="#222" stroke-width="1.2"/><text x="759.8" y="725.22" font-size="10" text-anchor="end" fill="#1c1c1c">300</text><path d="M761.4 706.9H765" stroke="#222" stroke-width="1.2"/><text x="759.8" y="710.46" font-size="10" text-anchor="end" fill="#1c1c1c">400</text><path d="M761.4 692.1H765" stroke="#222" stroke-width="1.2"/><text x="759.8" y="695.7" font-size="10" text-anchor="end" fill="#1c1c1c">500</text><rect x="793.3" y="707.1" width="14.4" height="58.8" fill="url(#gBarR)" stroke="#222" stroke-width="1"/><path d="M800.5 707V703.4M796.2 703.4H804.6" stroke="#222" stroke-width="1.2"/><path d="M778.8 765.9V768.9M800.5 765.9V768.9" stroke="#222" stroke-width="1.2"/><text x="736.9" y="728.7" font-size="10.2" text-anchor="middle" fill="#1c1c1c" transform="rotate(-90 736.9 728.7)">Tumor weight (mg)</text><text x="782" y="776.2" font-size="9.9" text-anchor="end" fill="#1c1c1c" transform="rotate(-45 782 776.2)">Control</text><text x="806.2" y="776.8" font-size="9.9" text-anchor="end" fill="#1c1c1c" transform="rotate(-45 806.2 776.8)">HEY1-OE</text>
<text x="4.2" y="14.9" font-size="16" font-weight="bold" fill="#000">A</text><text x="25.4" y="61.2" font-size="9.8" fill="#1c1c1c" transform="rotate(-90 25.4 61.2)">MG-63</text><text x="57.9" y="61.2" font-size="9.8" fill="#1c1c1c" transform="rotate(-90 57.9 61.2)">Saos-2</text><text x="89.9" y="61.2" font-size="9.8" fill="#1c1c1c" transform="rotate(-90 89.9 61.2)">U-2 OS</text><text x="121.4" y="61.2" font-size="9.8" fill="#1c1c1c" transform="rotate(-90 121.4 61.2)">MNNG/HOS</text><text x="153.4" y="61.2" font-size="9.8" fill="#1c1c1c" transform="rotate(-90 153.4 61.2)">143B</text><text x="185.9" y="61.2" font-size="9.8" fill="#1c1c1c" transform="rotate(-90 185.9 61.2)">SJSA-1</text><rect x="3" y="64" width="195" height="29" fill="#e6e6e6"/><g clip-path="url(#c19)"><rect x="3" y="64" width="195" height="29" fill="url(#gA1)"/><rect x="10.5" y="78.4" width="21.0" height="3.2" rx="1.6" fill="#0a0a0a" opacity="0.35" filter="url(#b1)"/><rect x="42.0" y="63.5" width="24.0" height="5.0" rx="2.5" fill="#0a0a0a" opacity="0.18" filter="url(#b2)"/><rect x="78.0" y="79.7" width="18.0" height="2.6" rx="1.3" fill="#0a0a0a" opacity="0.22" filter="url(#b1)"/><rect x="105.0" y="76.4" width="25.0" height="6.2" rx="3.1" fill="#0a0a0a" opacity="1.0" filter="url(#b1)"/><rect x="137.5" y="77.9" width="25.0" height="4.2" rx="2.1" fill="#0a0a0a" opacity="0.8" filter="url(#b1)"/><rect x="171.5" y="78.2" width="23.0" height="3.6" rx="1.8" fill="#0a0a0a" opacity="0.6" filter="url(#b1)"/><rect x="184.0" y="77.7" width="10.0" height="3.6" rx="1.8" fill="#0a0a0a" opacity="0.4" filter="url(#b1)"/></g><rect x="3" y="64" width="195" height="29" fill="none" stroke="#222" stroke-width="1.1"/><rect x="3" y="98" width="195" height="29" fill="#e6e6e6"/><g clip-path="url(#c20)"><rect x="3" y="98" width="195" height="29" fill="url(#gA1)"/><rect x="42.0" y="96.5" width="24.0" height="5.0" rx="2.5" fill="#0a0a0a" opacity="0.45" filter="url(#b2)"/><rect x="10.5" y="110.9" width="22.0" height="4.2" rx="2.1" fill="#0a0a0a" opacity="0.6" filter="url(#b1)"/><rect x="11.0" y="110.0" width="8.0" height="3.0" rx="1.5" fill="#0a0a0a" opacity="0.4" filter="url(#b1)"/><rect x="46.0" y="112.5" width="18.0" height="3.0" rx="1.5" fill="#0a0a0a" opacity="0.1" filter="url(#b1)"/><rect x="76.5" y="111.9" width="19.0" height="3.2" rx="1.6" fill="#0a0a0a" opacity="0.33" filter="url(#b1)"/><rect x="101.5" y="106.2" width="27.0" height="12.5" rx="5.5" fill="#0a0a0a" opacity="1.0" filter="url(#b1)"/><rect x="132.5" y="108.2" width="26.0" height="7.6" rx="3.8" fill="#0a0a0a" opacity="1.0" filter="url(#b1)"/><rect x="166.0" y="109.0" width="24.0" height="6.0" rx="3.0" fill="#0a0a0a" opacity="0.95" filter="url(#b1)"/><rect x="180.0" y="108.0" width="10.0" height="7.0" rx="3.5" fill="#0a0a0a" opacity="0.8" filter="url(#b1)"/></g><rect x="3" y="98" width="195" height="29" fill="none" stroke="#222" stroke-width="1.1"/><rect x="3" y="131" width="195" height="41" fill="#e6e6e6"/><g clip-path="url(#c21)"><rect x="3" y="131" width="195" height="41" fill="url(#gA3)"/><rect x="4.8" y="147.3" width="32.5" height="7.4" rx="3.5" fill="#0a0a0a" opacity="1.0" filter="url(#b1)"/><rect x="38.2" y="147.3" width="32.5" height="7.4" rx="3.5" fill="#0a0a0a" opacity="1.0" filter="url(#b1)"/><rect x="70.8" y="149.8" width="30.5" height="7.4" rx="3.5" fill="#0a0a0a" opacity="1.0" filter="url(#b1)"/><rect x="100.2" y="151.8" width="29.5" height="7.4" rx="3.5" fill="#0a0a0a" opacity="1.0" filter="url(#b1)"/><rect x="128.2" y="149.8" width="33.5" height="7.4" rx="3.5" fill="#0a0a0a" opacity="1.0" filter="url(#b1)"/><rect x="162.2" y="148.8" width="32.5" height="7.4" rx="3.5" fill="#0a0a0a" opacity="1.0" filter="url(#b1)"/></g><rect x="3" y="131" width="195" height="41" fill="none" stroke="#222" stroke-width="1.1"/><path d="M205.8 79H224" stroke="#111" stroke-width="1.25" fill="none"/><path d="M200.5 79L207.3 76.1L205.8 79L207.3 81.9Z" fill="#111"/><text x="226.5" y="82.6" font-size="10.2" fill="#1c1c1c">HEY1</text><text x="200.5" y="93.6" font-size="10.2" fill="#1c1c1c">short exposure</text><path d="M205.8 111H224" stroke="#111" stroke-width="1.25" fill="none"/><path d="M200.5 111L207.3 108.1L205.8 111L207.3 113.9Z" fill="#111"/><text x="226.5" y="114.6" font-size="10.2" fill="#1c1c1c">HEY1</text><text x="200.5" y="125.4" font-size="10.2" fill="#1c1c1c">long exposure</text><path d="M205.8 153H224" stroke="#111" stroke-width="1.25" fill="none"/><path d="M200.5 153L207.3 150.1L205.8 153L207.3 155.9Z" fill="#111"/><text x="226.5" y="156.5" font-size="10.2" fill="#1c1c1c">β-actin</text>
<text x="4.4" y="219.4" font-size="15.5" font-weight="bold" fill="#000">B</text><text x="4" y="232.8" font-size="10.2" fill="#1c1c1c">pLent-U6-RFP-Puro:</text><text x="178" y="232.8" font-size="10.2" text-anchor="middle" fill="#1c1c1c">P2A</text><path d="M178 234.5V238.29999999999998" stroke="#111" stroke-width="1.15" fill="none"/><path d="M178 242.5L175.2 237.1L178 238.29999999999998L180.8 237.1Z" fill="#111"/><rect x="4" y="241.7" width="36.3" height="14.4" fill="#fff"/><text x="22.15" y="252.49999999999997" font-size="10.2" text-anchor="middle" fill="#1c1c1c">5'-LTR</text><rect x="40.3" y="241.7" width="21.700000000000003" height="14.4" fill="url(#gBlue)"/><text x="51.15" y="252.49999999999997" font-size="10.2" text-anchor="middle" fill="#1c1c1c">U6</text><path d="M40.3 241.7V256.09999999999997" stroke="#555" stroke-width="0.6" opacity="0.7"/><rect x="62" y="241.7" width="38" height="14.4" fill="url(#gYel)"/><text x="81.0" y="252.49999999999997" font-size="10.2" text-anchor="middle" fill="#1c1c1c">shRNA</text><path d="M62 241.7V256.09999999999997" stroke="#555" stroke-width="0.6" opacity="0.7"/><rect x="100" y="241.7" width="28.5" height="14.4" fill="url(#gBlue)"/><text x="114.25" y="252.49999999999997" font-size="10.2" text-anchor="middle" fill="#1c1c1c">CMV</text><path d="M100 241.7V256.09999999999997" stroke="#555" stroke-width="0.6" opacity="0.7"/><rect x="128.5" y="241.7" width="47.099999999999994" height="14.4" fill="url(#gRed)"/><text x="152.05" y="252.49999999999997" font-size="10.2" text-anchor="middle" fill="#1c1c1c">RFP</text><path d="M128.5 241.7V256.09999999999997" stroke="#555" stroke-width="0.6" opacity="0.7"/><rect x="175.6" y="241.7" width="5.200000000000017" height="14.4" fill="url(#gGray2)"/><path d="M175.6 241.7V256.09999999999997" stroke="#555" stroke-width="0.6" opacity="0.7"/><rect x="180.8" y="241.7" width="46.69999999999999" height="14.4" fill="url(#gGrn)"/><text x="204.15" y="252.49999999999997" font-size="10.2" text-anchor="middle" fill="#1c1c1c">Puro</text><path d="M180.8 241.7V256.09999999999997" stroke="#555" stroke-width="0.6" opacity="0.7"/><rect x="227.5" y="241.7" width="36.80000000000001" height="14.4" fill="#fff"/><text x="245.9" y="252.49999999999997" font-size="10.2" text-anchor="middle" fill="#1c1c1c">3'-LTR</text><path d="M227.5 241.7V256.09999999999997" stroke="#555" stroke-width="0.6" opacity="0.7"/><rect x="4" y="241.7" width="260.3" height="14.4" fill="none" stroke="#3a3a3a" stroke-width="1.2"/><text x="105" y="300" font-size="9.8" fill="#1c1c1c" transform="rotate(-45 105 300)">sh-Ctr</text><text x="133.2" y="300" font-size="9.8" fill="#1c1c1c" transform="rotate(-45 133.2 300)">sh-HEY1-1</text><text x="164" y="300" font-size="9.8" fill="#1c1c1c" transform="rotate(-45 164 300)">sh-HEY1-2</text><path d="M22 302H18.2V435.8H22" stroke="#222" stroke-width="1.2" fill="none"/><text x="12.5" y="369" font-size="10.2" text-anchor="middle" fill="#1c1c1c" transform="rotate(-90 12.5 369)">143B cells</text><text x="53.5" y="308.90000000000003" font-size="10.2" text-anchor="end" fill="#1c1c1c">55KD</text><path d="M55.5 305.3H71.5" stroke="#222" stroke-width="1.2"/><text x="53.5" y="330.6" font-size="10.2" text-anchor="end" fill="#1c1c1c">40KD</text><path d="M55.5 327H71.5" stroke="#222" stroke-width="1.2"/><text x="53.5" y="355.6" font-size="10.2" text-anchor="end" fill="#1c1c1c">35KD</text><path d="M55.5 352H71.5" stroke="#222" stroke-width="1.2"/><text x="53.5" y="377.0" font-size="10.2" text-anchor="end" fill="#1c1c1c">55KD</text><path d="M55.5 373.4H71.5" stroke="#222" stroke-width="1.2"/><text x="53.5" y="399.6" font-size="10.2" text-anchor="end" fill="#1c1c1c">40KD</text><path d="M55.5 396H71.5" stroke="#222" stroke-width="1.2"/><text x="53.5" y="422.90000000000003" font-size="10.2" text-anchor="end" fill="#1c1c1c">35KD</text><path d="M55.5 419.3H71.5" stroke="#222" stroke-width="1.2"/><rect x="71.5" y="302" width="102" height="65" fill="#e6e6e6"/><g clip-path="url(#c22)"><rect x="71.5" y="302" width="102" height="65" fill="url(#gB1)"/><rect x="75.0" y="303.3" width="10.0" height="3.4" rx="1.7" fill="#0a0a0a" opacity="0.2" filter="url(#b1)"/><rect x="75.0" y="325.3" width="10.0" height="3.4" rx="1.7" fill="#0a0a0a" opacity="0.2" filter="url(#b1)"/><rect x="75.0" y="335.3" width="10.0" height="3.4" rx="1.7" fill="#0a0a0a" opacity="0.2" filter="url(#b1)"/><rect x="75.0" y="350.3" width="10.0" height="3.4" rx="1.7" fill="#0a0a0a" opacity="0.2" filter="url(#b1)"/><rect x="102.0" y="314.0" width="12.0" height="22.0" rx="11.0" fill="#0a0a0a" opacity="0.1" filter="url(#b3)"/><rect x="93.8" y="342.1" width="23.5" height="5.8" rx="2.9" fill="#0a0a0a" opacity="1.0" filter="url(#b1)"/><rect x="123.2" y="342.1" width="21.5" height="5.8" rx="2.9" fill="#0a0a0a" opacity="1.0" filter="url(#b1)"/><rect x="152.0" y="344.8" width="16.0" height="2.5" rx="1.2" fill="#0a0a0a" opacity="0.12" filter="url(#b1)"/></g><rect x="71.5" y="302" width="102" height="65" fill="none" stroke="#222" stroke-width="1.1"/><rect x="71.5" y="370.7" width="102" height="65.3" fill="#e6e6e6"/><g clip-path="url(#c23)"><rect x="71.5" y="370.7" width="102" height="65.3" fill="#f2f2f2"/><rect x="75.0" y="372.3" width="10.0" height="3.4" rx="1.7" fill="#0a0a0a" opacity="0.17" filter="url(#b1)"/><rect x="75.0" y="382.3" width="10.0" height="3.4" rx="1.7" fill="#0a0a0a" opacity="0.17" filter="url(#b1)"/><rect x="75.0" y="394.3" width="10.0" height="3.4" rx="1.7" fill="#0a0a0a" opacity="0.17" filter="url(#b1)"/><rect x="75.0" y="405.3" width="10.0" height="3.4" rx="1.7" fill="#0a0a0a" opacity="0.17" filter="url(#b1)"/><rect x="75.0" y="417.3" width="10.0" height="3.4" rx="1.7" fill="#0a0a0a" opacity="0.17" filter="url(#b1)"/><rect x="91.0" y="387.2" width="28.0" height="7.6" rx="3.5" fill="#0a0a0a" opacity="1.0" filter="url(#b1)"/><rect x="119.5" y="389.7" width="28.0" height="7.6" rx="3.5" fill="#0a0a0a" opacity="1.0" filter="url(#b1)"/><rect x="146.0" y="389.0" width="26.0" height="7.0" rx="3.5" fill="#0a0a0a" opacity="1.0" filter="url(#b1)"/></g><rect x="71.5" y="370.7" width="102" height="65.3" fill="none" stroke="#222" stroke-width="1.1"/><path d="M181.3 345.5H198.5" stroke="#111" stroke-width="1.25" fill="none"/><path d="M176 345.5L182.8 342.6L181.3 345.5L182.8 348.4Z" fill="#111"/><text x="200.5" y="349" font-size="10.2" fill="#1c1c1c">HEY1</text><path d="M181.3 392H198.5" stroke="#111" stroke-width="1.25" fill="none"/><path d="M176 392L182.8 389.1L181.3 392L182.8 394.9Z" fill="#111"/><text x="200.5" y="395.5" font-size="10.2" fill="#1c1c1c">β-actin</text>
</svg>
</body></html>
